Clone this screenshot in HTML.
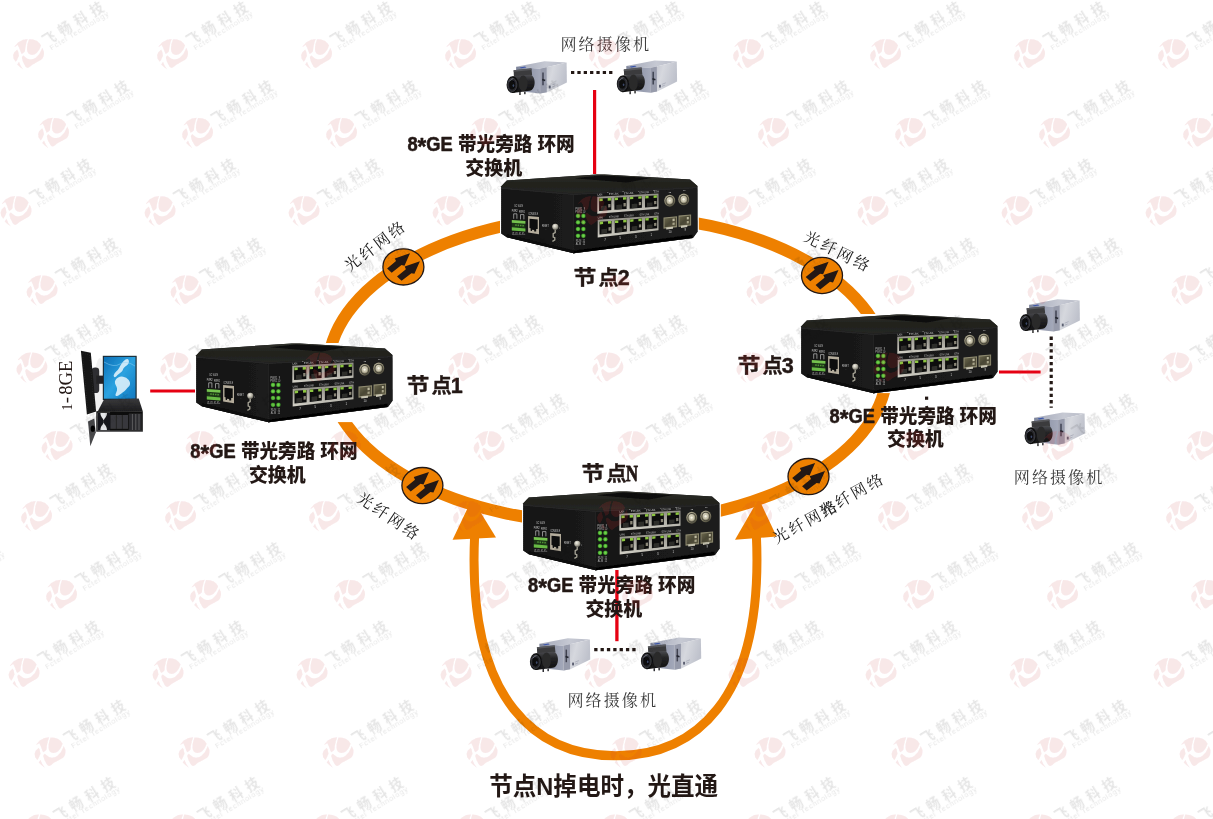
<!DOCTYPE html>
<html lang="zh-CN">
<head>
<meta charset="utf-8">
<title>8*GE 带光旁路 环网交换机 组网图</title>
<style>
html,body{margin:0;padding:0;background:#fff;}
body{width:1213px;height:819px;overflow:hidden;font-family:"Liberation Sans","Noto Sans CJK SC",sans-serif;}
svg{display:block;}
</style>
</head>
<body>
<svg width="1213" height="819" viewBox="0 0 1213 819">
<rect width="1213" height="819" fill="#fff"/>
<defs>
<filter id="soft2" x="-10%" y="-10%" width="120%" height="120%"><feGaussianBlur stdDeviation="0.45"/></filter>
<radialGradient id="coax" cx="0.42" cy="0.38" r="0.62"><stop offset="0" stop-color="#e8e4d2"/><stop offset="0.5" stop-color="#a9a48c"/><stop offset="0.8" stop-color="#7a765f"/><stop offset="1" stop-color="#3f3d32"/></radialGradient>
<filter id="soft" x="-5%" y="-5%" width="110%" height="110%"><feGaussianBlur stdDeviation="0.4"/></filter>
<linearGradient id="swTop" x1="0" y1="0" x2="0" y2="1"><stop offset="0" stop-color="#30312b"/><stop offset="0.5" stop-color="#20211d"/><stop offset="1" stop-color="#262723"/></linearGradient>
<linearGradient id="swLeft" x1="0" y1="0" x2="1" y2="0"><stop offset="0" stop-color="#141414"/><stop offset="1" stop-color="#1b1b1b"/></linearGradient>
<linearGradient id="swRight" x1="0" y1="0" x2="1" y2="0"><stop offset="0" stop-color="#171717"/><stop offset="1" stop-color="#1c1c1c"/></linearGradient>
<linearGradient id="rj" x1="0" y1="0" x2="0" y2="1"><stop offset="0" stop-color="#8f8d84"/><stop offset="0.7" stop-color="#b9b7ae"/><stop offset="1" stop-color="#d4d2c8"/></linearGradient>
<radialGradient id="metal" cx="0.4" cy="0.35" r="0.7"><stop offset="0" stop-color="#f4f2e8"/><stop offset="0.55" stop-color="#b3b0a3"/><stop offset="1" stop-color="#5d5b53"/></radialGradient>
<radialGradient id="led" cx="0.5" cy="0.5" r="0.5"><stop offset="0" stop-color="#7ed957"/><stop offset="0.6" stop-color="#56bd38"/><stop offset="1" stop-color="#2c6a20"/></radialGradient>
<linearGradient id="sfp" x1="0" y1="0" x2="1" y2="1"><stop offset="0" stop-color="#6d694f"/><stop offset="0.5" stop-color="#4a4735"/><stop offset="1" stop-color="#5f5b44"/></linearGradient>
<linearGradient id="camTop" x1="0" y1="0" x2="1" y2="0"><stop offset="0" stop-color="#a2a7b8"/><stop offset="0.6" stop-color="#c6c9d3"/><stop offset="1" stop-color="#b9bcc8"/></linearGradient>
<linearGradient id="camFront" x1="0" y1="0" x2="1" y2="0"><stop offset="0" stop-color="#7e859a"/><stop offset="1" stop-color="#a4a9ba"/></linearGradient>
<linearGradient id="camSide" x1="0" y1="0" x2="1" y2="0.3"><stop offset="0" stop-color="#b4b7c2"/><stop offset="0.5" stop-color="#d6d8de"/><stop offset="1" stop-color="#bfc2cc"/></linearGradient>
<linearGradient id="camLens" x1="0" y1="0" x2="0" y2="1"><stop offset="0" stop-color="#4b4c50"/><stop offset="0.35" stop-color="#252527"/><stop offset="1" stop-color="#0f0f10"/></linearGradient>
<linearGradient id="screen" x1="0" y1="0" x2="1" y2="1"><stop offset="0" stop-color="#0b6fb6"/><stop offset="0.5" stop-color="#2ba2e0"/><stop offset="1" stop-color="#1079c0"/></linearGradient>
<linearGradient id="towerTop" x1="0" y1="0" x2="0" y2="1"><stop offset="0" stop-color="#3a3a3c"/><stop offset="1" stop-color="#1d1d1f"/></linearGradient>
<g id="camera"><g filter="url(#soft)">
<polygon points="10.1,5.7 38.5,0.3 60.6,1.4 34.2,7.8" fill="url(#camTop)"/>
<polygon points="10.1,5.7 34.2,7.8 34.2,32.6 20.6,31.0 10.1,26.0" fill="url(#camFront)"/>
<polygon points="34.2,7.8 60.6,1.4 60.9,21.4 41.0,31.2 34.2,32.6" fill="url(#camSide)"/>
<polygon points="34.2,7.8 40.6,6.3 40.8,31.2 34.2,32.6" fill="#979bab"/>
<path d="M37 11.6v12.6" stroke="#3f4250" stroke-width="1.5" fill="none"/><path d="M36.2 18.6l3 1" stroke="#23252e" stroke-width="1.6" fill="none"/>
<rect x="42.8" y="24.6" width="1.9" height="2.8" fill="#5b6072"/>
<path d="M45.6 24.2l4-1.6M45.6 26.2l3-1.2" stroke="#8f93a2" stroke-width="0.5"/>
<polygon points="13.5,6.4 19.0,5.5 20.5,6.4 15.0,7.3" fill="#3a54a8"/>
<polygon points="7.6,9.3 25.4,7.4 26.2,14.6 7.9,15.4" fill="#3b3b3d"/>
<polygon points="7.6,9.3 25.4,7.4 25.6,9.0 7.7,10.8" fill="#55565a"/>
<path d="M6.4 15.3 L23.6 13.7 C30.4 14.2 30.4 29 23.6 29.7 L6.4 32 Z" fill="url(#camLens)"/>
<ellipse cx="17.2" cy="22.4" rx="4.4" ry="8" fill="#2a2a2b"/>
<ellipse cx="6.6" cy="23.7" rx="6" ry="8.4" fill="#0d0d0e"/>
<ellipse cx="6.3" cy="23.8" rx="4.6" ry="6.7" fill="#26272c" stroke="#4b4c52" stroke-width="0.7"/>
<ellipse cx="6.1" cy="24" rx="3" ry="4.4" fill="#07070a"/>
<path d="M3.4 20.4q1.6-2.6 3.8-2.8" stroke="#8a8d98" stroke-width="0.7" fill="none"/><ellipse cx="7.4" cy="24.6" rx="0.9" ry="1.3" fill="#3c4a66"/>
<rect x="13.2" y="31" width="1.5" height="3" fill="#2e2e30"/><rect x="18.1" y="30.4" width="1.5" height="2.8" fill="#2e2e30"/>
</g></g>
<g id="pc"><g filter="url(#soft)">
<ellipse cx="22" cy="40" rx="6" ry="30" fill="#000" opacity="0.06"/>
<rect x="13.6" y="19.5" width="7.6" height="25.6" rx="3.4" fill="#2f2f31"/>
<rect x="18.2" y="27.6" width="8" height="8.2" fill="#232325"/>
<rect x="24.8" y="7.8" width="33.9" height="44.2" fill="#1c2730"/>
<rect x="25.9" y="8.9" width="31.6" height="41.8" fill="url(#screen)"/>
<path d="M47.5 11.5c2.6-1.6 4 .6 3.2 3.4-1 3-4.6 3-5.6 6.4-1.2 3.6-4.6 4.2-6.6 7-1.2 1.4-3.2 1-2.8-1 .8-3.2 4-4.2 5.4-7.2 1.4-3.2 3.4-6.4 6.4-8.6z" fill="#e8f6fd" opacity="0.85"/>
<path d="M40.2 29.5c3-1.8 6.6-.8 9.4 1.4 2.6 2 3.4 5.6 1.2 7.6-2.2 2-3.6 4.4-6.2 6-2.4 1.6-5 4.4-6.6 3.4-1.4-1 .6-3.6 1-5.6.6-3-1.4-4.6-2-7-.6-2.4 1-4.6 3.200-5.800z" fill="#e8f6fd" opacity="0.85"/>
<path d="M26 14q10 6 16 2t15 2" stroke="#8fd3f4" stroke-width="0.7" fill="none" opacity="0.7"/>
<polygon points="2.9,2.7 12.8,4.8 18.1,63.4 8.9,66.6" fill="#151515"/>
<polygon points="4.6,5.5 11.6,7.0 16.4,62.6 10.0,64.6" fill="none" stroke="#3a3a3a" stroke-width="0.5" stroke-dasharray="1 1.4"/>
<polygon points="19.7,63.6 25.7,51.9 60.7,50.5 64.8,63.2" fill="url(#towerTop)"/>
<rect x="18.3" y="63.2" width="46.5" height="20.2" fill="#101010"/>
<rect x="19.4" y="64.8" width="12.6" height="17.4" fill="#e6e7ea"/>
<path d="M22.4 64.8c0 5 3.4 5.400 3.400 8.700s-3.400 3.700-3.400 8.700h-3v-17.400zM29 64.800c0 5-3.400 5.400-3.400 8.700s3.400 3.700 3.400 8.700h3v-17.400z" fill="#17171a" transform="translate(0 0)"/>
<rect x="32.4" y="67" width="17.6" height="13.8" fill="#39393c"/>
<path d="M38.400 67v13.800M44.400 67v13.800" stroke="#1a1a1a" stroke-width="0.7"/>
<rect x="50.800" y="65.600" width="12.800" height="16.400" fill="#2b2b2d"/>
<path d="M54.400 66v16M57.800 66v16M61 66v16" stroke="#8d8d90" stroke-width="0.5"/>
<rect x="18.3" y="82.600" width="46.500" height="1.200" fill="#5a5a5d"/>
<polygon points="10.0,73.4 16.3,70.6 17.8,84.6 12.3,98.2" fill="#48484b"/>
<ellipse cx="14.8" cy="80.8" rx="2.2" ry="3.2" fill="#050505"/>
</g></g>
<g id="marker"><ellipse cx="0" cy="0" rx="20.5" ry="18.1" fill="#ee8000" stroke="#231815" stroke-width="1.3"/><polygon points="6.6,-13.7 -8.6,-8.5 -7.4,-5.8 -16.3,1.5 -11.7,5.8 -1.9,-1.8 1.1,-1.2" fill="#231815"/><polygon points="16.5,-5.6 1.3,-0.4 2.5,2.3 -6.4,9.6 -1.8,13.9 8.0,6.3 11.0,6.9" fill="#231815"/></g>
<path id="logo" filter="url(#soft2)" d="M0.5 -14.9 L4.6 -14.6 L8.2 -13.3 L10.8 -11.2 L12.6 -8.5 L10.8 -4.4 L8.2 -1.0 L6.0 0.3 L3.6 0.8 L1.5 0.5 L0.0 -0.5 L-1.1 -2.4 L-1.5 -4.6 L-1.4 -7.8 L-0.8 -10.8ZM13.8 -6.4 L15.4 -2.6 L15.5 0.0 L15.1 2.1 L14.2 4.1 L12.8 5.6 L8.2 8.2 L3.6 10.8 L1.4 12.6 L-0.5 13.8 L-1.9 13.5 L-3.1 12.3 L-5.6 7.7 L-6.7 3.6 L-6.2 2.2 L-5.1 1.5 L-3.6 2.6 L-1.0 4.6 L1.0 5.2 L3.1 5.1 L5.3 4.6 L7.2 3.6 L10.8 0.0 L12.8 -4.1ZM-13.8 -7.9 L-10.3 -11.8 L-5.6 -14.4 L-0.8 -15.1 L-2.1 -11.3 L-3.1 -6.7 L-3.6 -2.6 L-5.1 -1.0 L-6.9 0.0 L-8.2 -3.1 L-9.5 -6.7 L-10.8 -9.0 L-13.8 -7.2ZM-11.3 -4.6 L-10.3 -2.6 L-9.5 1.5 L-11.3 5.6 L-12.8 7.7 L-14.9 4.6 L-15.4 1.5 L-14.4 -1.5ZM-9.5 7.7 L-7.7 11.8 L-5.1 15.4 L-8.7 12.8 L-11.3 10.3Z" fill="#c4323f" fill-opacity="0.115" stroke="#c4323f" stroke-opacity="0.1" stroke-width="0.01" stroke-linejoin="round"/><path id="logoGlow" filter="url(#soft2)" d="M0.5 -14.9 L4.6 -14.6 L8.2 -13.3 L10.8 -11.2 L12.6 -8.5 L10.8 -4.4 L8.2 -1.0 L6.0 0.3 L3.6 0.8 L1.5 0.5 L0.0 -0.5 L-1.1 -2.4 L-1.5 -4.6 L-1.4 -7.8 L-0.8 -10.8ZM13.8 -6.4 L15.4 -2.6 L15.5 0.0 L15.1 2.1 L14.2 4.1 L12.8 5.6 L8.2 8.2 L3.6 10.8 L1.4 12.6 L-0.5 13.8 L-1.9 13.5 L-3.1 12.3 L-5.6 7.7 L-6.7 3.6 L-6.2 2.2 L-5.1 1.5 L-3.6 2.6 L-1.0 4.6 L1.0 5.2 L3.1 5.1 L5.3 4.6 L7.2 3.6 L10.8 0.0 L12.8 -4.1ZM-13.8 -7.9 L-10.3 -11.8 L-5.6 -14.4 L-0.8 -15.1 L-2.1 -11.3 L-3.1 -6.7 L-3.6 -2.6 L-5.1 -1.0 L-6.9 0.0 L-8.2 -3.1 L-9.5 -6.7 L-10.8 -9.0 L-13.8 -7.2ZM-11.3 -4.6 L-10.3 -2.6 L-9.5 1.5 L-11.3 5.6 L-12.8 7.7 L-14.9 4.6 L-15.4 1.5 L-14.4 -1.5ZM-9.5 7.7 L-7.7 11.8 L-5.1 15.4 L-8.7 12.8 L-11.3 10.3Z" fill="#0d0203"/>
</defs>
<g id="diagram">
<ellipse cx="607.5" cy="369.4" rx="279.4" ry="154.5" fill="none" stroke="#ee8000" stroke-width="12"/>
<path d="M474.6 536 C467 704 539 755.8 615.5 755.8 C692 755.8 764 704 756.4 536" fill="none" stroke="#ee8000" stroke-width="9"/>
<polygon points="472.1,498.6 452.6,539.8 496,537.4" fill="#ee8000"/>
<polygon points="758.7,498.6 735,539.8 776.6,536.6" fill="#ee8000"/>
<line x1="150.2" y1="391" x2="197" y2="391" stroke="#e60012" stroke-width="3" />
<line x1="594.6" y1="90" x2="594.6" y2="176" stroke="#e60012" stroke-width="3.2" />
<line x1="999" y1="371.9" x2="1040.6" y2="371.9" stroke="#e60012" stroke-width="3" />
<line x1="571" y1="72.5" x2="613" y2="72.5" stroke="#231815" stroke-width="3.2" stroke-dasharray="3.3 3.05"/>
<line x1="594.2" y1="649.6" x2="637" y2="649.6" stroke="#231815" stroke-width="3.2" stroke-dasharray="3.3 3.05"/>
<line x1="1051.2" y1="336.6" x2="1051.2" y2="407.8" stroke="#231815" stroke-width="3.2" stroke-dasharray="3.3 3.05"/>
<g class="switch" transform="translate(195.8 343)">
<rect x="-0.8" y="0" width="198.8" height="79.1" fill="#fff"/>
<g filter="url(#soft)">
<polygon points="0.5,12.3 6.0,6.4 96.0,0.5 104.0,0.5 189.2,5.5 196.6,11.9 196.7,57.8 192.1,64.1 73.0,79.2 6.0,63.3 0.5,59.6" fill="#121212"/>
<polygon points="0.5,12.3 6.0,6.4 96.0,0.5 104.0,0.5 189.2,5.5 196.6,11.9 196.6,13.0 72.6,19.6 0.5,13.4" fill="url(#swTop)"/>
<polygon points="74.0,4.2 100.0,1.4 150.0,4.0 126.0,8.4" fill="#0b0b0b"/>
<polygon points="0.5,13.2 72.6,19.4 196.6,12.8 196.6,14.6 72.6,21.2 0.5,15.0" fill="#262626"/>
<polygon points="0.5,15.0 72.6,21.2 73.0,79.2 6.0,63.3 0.5,59.6" fill="url(#swLeft)"/>
<polygon points="72.6,21.2 196.6,14.6 196.7,57.8 192.1,64.1 73.0,79.2" fill="url(#swRight)"/>
<line x1="72.7" y1="20" x2="73" y2="80" stroke="#262626" stroke-width="0.7"/>
<polygon points="73.0,76.4 192.1,60.4 192.1,64.1 73.0,79.2" fill="#060606"/>
<polygon points="6.0,60.2 73.0,76.4 73.0,79.2 6.0,63.3" fill="#080808"/>
<g font-family="Liberation Sans, sans-serif" font-size="3" fill="#d0d0d0" font-weight="400">
<text x="13.6" y="33.2" textLength="8.6" lengthAdjust="spacingAndGlyphs">DC 9-60V</text>
<text x="11" y="38.4" textLength="5.8" lengthAdjust="spacingAndGlyphs">PWR2</text><text x="18.2" y="39" textLength="5.8" lengthAdjust="spacingAndGlyphs">PWR1</text>
<text x="27.6" y="40.6" textLength="9.6" lengthAdjust="spacingAndGlyphs">CONSOLE</text>
<text x="41.2" y="53.2" textLength="6.6" lengthAdjust="spacingAndGlyphs">RESET</text>
<text x="11.4" y="61.2" font-size="2.6" textLength="13" lengthAdjust="spacingAndGlyphs">V2- V2+ V1- V1+</text>
<text x="74.4" y="35.6" font-size="2.7" fill="#b4b4b4" textLength="10" lengthAdjust="spacingAndGlyphs" xml:space="preserve">PWR1  9</text><text x="74.4" y="38.8" font-size="2.7" fill="#b4b4b4" textLength="10" lengthAdjust="spacingAndGlyphs" xml:space="preserve">PWR2 10</text>
<text x="75" y="67.6" font-size="2.7" fill="#b4b4b4" textLength="9.4" lengthAdjust="spacingAndGlyphs" xml:space="preserve">RUN  11</text><text x="75" y="70.9" font-size="2.7" fill="#b4b4b4" textLength="9.4" lengthAdjust="spacingAndGlyphs" xml:space="preserve">ALM  12</text>
</g>
<path d="M12.9 44.8V39.8h3.2v5M19.7 45.4V40.6h3.4v4.8" fill="none" stroke="#dedede" stroke-width="0.6"/>
<polygon points="11.0,46.0 24.6,47.0 24.6,57.4 11.0,56.4" fill="#1c3416"/>
<polygon points="11.0,46.0 24.6,47.0 24.6,49.8 11.0,48.8" fill="#74c34f"/>
<polygon points="11.0,53.2 24.6,54.4 24.6,57.4 11.0,56.4" fill="#68ba45"/>
<path d="M14.4 51l9 .8" stroke="#4f9236" stroke-width="1.6" stroke-dasharray="1.5 0.9"/>
<polygon points="27.3,41.9 38.2,43.0 38.2,60.2 27.3,58.6" fill="#b5ad9c"/>
<polygon points="28.7,44.8 36.9,45.6 36.9,55.0 35.4,54.9 35.4,57.6 33.4,57.4 33.4,56.0 31.2,55.8 31.2,57.0 29.8,56.8 29.8,54.2 28.7,54.1" fill="#0b0b0b"/>
<circle cx="54.5" cy="52.8" r="3.1" fill="url(#metal)"/>
<path d="M54.4 56v2.600l-2 1v3.400l1.600 .6v2.400l-2.400 1.400" fill="none" stroke="#a9a698" stroke-width="1.3"/>
<circle cx="58.6" cy="54" r="0.55" fill="#8a8a8a"/><circle cx="45" cy="55.400" r="0.45" fill="#333"/>
<circle cx="77.2" cy="41.9" r="2.35" fill="url(#led)"/>
<circle cx="82.6" cy="41.9" r="2.35" fill="url(#led)"/>
<circle cx="77.2" cy="48.3" r="2.35" fill="url(#led)"/>
<circle cx="82.6" cy="48.3" r="2.35" fill="url(#led)"/>
<circle cx="77.2" cy="55" r="2.35" fill="url(#led)"/>
<circle cx="82.6" cy="55" r="2.35" fill="url(#led)"/>
<circle cx="77.2" cy="61.8" r="2.35" fill="url(#led)"/>
<circle cx="82.6" cy="61.8" r="2.35" fill="url(#led)"/>
<polygon points="96.5,22.7 157.7,19.4 157.7,34.8 96.5,39.7" fill="url(#rj)"/>
<polygon points="98.3,24.6 110.5,23.9 110.5,36.1 98.3,37.0" fill="#0c0c0c"/>
<polygon points="100.2,32.0 105.9,31.6 105.9,36.1 100.2,36.5" fill="#2e2e2c"/>
<polygon points="107.4,30.1 109.7,30.0 109.7,33.3 107.4,33.5" fill="#8b8778"/>
<polygon points="98.6,24.6 101.9,24.4 101.9,27.0 98.6,27.2" fill="#8cc63f"/>
<polygon points="106.9,24.1 110.2,24.0 110.2,26.5 106.9,26.7" fill="#8cc63f"/>
<polygon points="113.6,23.8 125.8,23.1 125.8,34.9 113.6,35.8" fill="#0c0c0c"/>
<polygon points="115.5,30.9 121.2,30.5 121.2,34.9 115.5,35.4" fill="#2e2e2c"/>
<polygon points="122.7,29.1 125.0,29.0 125.0,32.2 122.7,32.4" fill="#8b8778"/>
<polygon points="113.9,23.7 117.2,23.6 117.2,26.0 113.9,26.2" fill="#8cc63f"/>
<polygon points="122.2,23.3 125.5,23.1 125.5,25.5 122.2,25.7" fill="#8cc63f"/>
<polygon points="128.9,22.9 141.1,22.2 141.1,33.8 128.9,34.7" fill="#0c0c0c"/>
<polygon points="130.8,29.9 136.5,29.5 136.5,33.8 130.8,34.2" fill="#2e2e2c"/>
<polygon points="138.0,28.1 140.3,27.9 140.3,31.1 138.0,31.3" fill="#8b8778"/>
<polygon points="129.2,22.9 132.5,22.7 132.5,25.1 129.2,25.3" fill="#8cc63f"/>
<polygon points="137.5,22.4 140.8,22.2 140.8,24.6 137.5,24.8" fill="#8cc63f"/>
<polygon points="144.2,22.0 156.4,21.3 156.4,32.6 144.2,33.5" fill="#0c0c0c"/>
<polygon points="146.1,28.8 151.8,28.4 151.8,32.6 146.1,33.1" fill="#2e2e2c"/>
<polygon points="153.3,27.1 155.6,26.9 155.6,30.0 153.3,30.2" fill="#8b8778"/>
<polygon points="144.5,22.0 147.8,21.8 147.8,24.2 144.5,24.4" fill="#8cc63f"/>
<polygon points="152.8,21.5 156.1,21.3 156.1,23.7 152.8,23.9" fill="#8cc63f"/>
<polygon points="96.9,45.8 157.7,41.6 157.7,56.2 96.9,63.4" fill="url(#rj)"/>
<polygon points="98.7,47.8 110.8,46.9 110.8,59.2 98.7,60.6" fill="#0c0c0c"/>
<polygon points="100.5,55.3 106.2,54.8 106.2,59.4 100.5,60.0" fill="#2e2e2c"/>
<polygon points="107.7,53.2 110.0,53.0 110.0,56.4 107.7,56.7" fill="#8b8778"/>
<polygon points="99.0,47.8 102.3,47.5 102.3,50.1 99.0,50.4" fill="#8cc63f"/>
<polygon points="107.2,47.1 110.5,46.9 110.5,49.4 107.2,49.7" fill="#8cc63f"/>
<polygon points="113.9,46.6 126.0,45.7 126.0,57.5 113.9,58.9" fill="#0c0c0c"/>
<polygon points="115.7,53.8 121.4,53.3 121.4,57.7 115.7,58.3" fill="#2e2e2c"/>
<polygon points="122.9,51.8 125.2,51.6 125.2,54.9 122.9,55.1" fill="#8b8778"/>
<polygon points="114.2,46.6 117.5,46.4 117.5,48.9 114.2,49.1" fill="#8cc63f"/>
<polygon points="122.4,46.0 125.7,45.8 125.7,48.2 122.4,48.4" fill="#8cc63f"/>
<polygon points="129.1,45.5 141.2,44.6 141.2,55.8 129.1,57.2" fill="#0c0c0c"/>
<polygon points="130.9,52.4 136.6,51.8 136.6,56.0 130.9,56.7" fill="#2e2e2c"/>
<polygon points="138.1,50.4 140.4,50.2 140.4,53.3 138.1,53.5" fill="#8b8778"/>
<polygon points="129.4,45.5 132.7,45.2 132.7,47.6 129.4,47.9" fill="#8cc63f"/>
<polygon points="137.6,44.9 140.9,44.6 140.9,46.9 137.6,47.2" fill="#8cc63f"/>
<polygon points="144.3,44.4 156.4,43.5 156.4,54.2 144.3,55.5" fill="#0c0c0c"/>
<polygon points="146.1,50.9 151.8,50.3 151.8,54.4 146.1,55.0" fill="#2e2e2c"/>
<polygon points="153.3,49.0 155.6,48.8 155.6,51.7 153.3,52.0" fill="#8b8778"/>
<polygon points="144.6,44.3 147.9,44.1 147.9,46.4 144.6,46.6" fill="#8cc63f"/>
<polygon points="152.8,43.7 156.1,43.5 156.1,45.7 152.8,45.9" fill="#8cc63f"/>
<g font-family="Liberation Sans, sans-serif" font-size="2.9" fill="#d2d2d2" font-weight="400">
<g transform="translate(96.6 21.7) rotate(-3)"><text x="0" y="0" textLength="5" lengthAdjust="spacingAndGlyphs">LAN</text><text x="11.6" y="0" textLength="9.6" lengthAdjust="spacingAndGlyphs">ETH LINK</text><text x="26.6" y="0" textLength="9.6" lengthAdjust="spacingAndGlyphs">ETH LINK</text><text x="42.2" y="0" textLength="9.6" lengthAdjust="spacingAndGlyphs">ETH LINK</text><text x="57" y="0" textLength="4.6" lengthAdjust="spacingAndGlyphs">ETH</text></g>
<g transform="translate(96.9 44.7) rotate(-4)"><text x="0" y="0" textLength="5" lengthAdjust="spacingAndGlyphs">LAN</text><text x="11.6" y="0" textLength="9.6" lengthAdjust="spacingAndGlyphs">ETH LINK</text><text x="26.6" y="0" textLength="9.6" lengthAdjust="spacingAndGlyphs">ETH LINK</text><text x="42.2" y="0" textLength="9.6" lengthAdjust="spacingAndGlyphs">ETH LINK</text><text x="57" y="0" textLength="4.6" lengthAdjust="spacingAndGlyphs">ETH</text></g>
<text x="103.4" y="66.6">7</text>
<text x="118.8" y="65.0">5</text>
<text x="134.2" y="63.5">3</text>
<text x="149.6" y="61.9">1</text>
<text x="106.2" y="19.2" font-size="2.4">8</text>
<text x="121.6" y="18.4" font-size="2.4">6</text>
<text x="137.0" y="17.6" font-size="2.4">4</text>
<text x="152.4" y="16.8" font-size="2.4">2</text>
<text x="167.6" y="58.6" textLength="3" lengthAdjust="spacingAndGlyphs">10</text><text x="183.6" y="56.8">9</text>
<text x="167.6" y="18.6" font-size="2.4">12</text><text x="182.2" y="17.4" font-size="2.4">11</text>
</g>
<ellipse cx="169" cy="26.8" rx="5.6" ry="6.1" fill="url(#coax)"/>
<ellipse cx="169" cy="26.8" rx="3.9" ry="4.300" fill="none" stroke="#4a473c" stroke-width="1.1"/>
<ellipse cx="169" cy="26.8" rx="2.4" ry="2.700" fill="#c9c4ae"/>
<ellipse cx="168.8" cy="26.6" rx="1.1" ry="1.200" fill="#f5f2e6"/>
<ellipse cx="183" cy="25.5" rx="5.6" ry="6.1" fill="url(#coax)"/>
<ellipse cx="183" cy="25.5" rx="3.9" ry="4.300" fill="none" stroke="#4a473c" stroke-width="1.1"/>
<ellipse cx="183" cy="25.5" rx="2.4" ry="2.700" fill="#c9c4ae"/>
<ellipse cx="182.8" cy="25.3" rx="1.1" ry="1.200" fill="#f5f2e6"/>
<polygon points="162.7,43.4 176.3,42.2 176.3,53.2 162.7,54.8" fill="#8d896f"/>
<polygon points="163.7,44.5 175.3,43.4 175.3,52.0 163.7,53.3" fill="url(#sfp)"/>
<polygon points="171.7,44.8 173.9,44.6 173.9,47.1 171.7,47.3" fill="#bdb99f"/>
<polygon points="171.7,48.8 173.9,48.6 173.9,50.8 171.7,51.1" fill="#a8a48a"/>
<polygon points="165.4,53.6 172.2,52.8 172.2,54.8 165.4,55.6" fill="#c9c6b4"/>
<polygon points="177.7,41.6 190.3,40.4 190.3,51.6 177.7,53.0" fill="#8d896f"/>
<polygon points="178.6,42.7 189.4,41.6 189.4,50.4 178.6,51.5" fill="url(#sfp)"/>
<polygon points="186.0,43.1 188.0,42.9 188.0,45.3 186.0,45.5" fill="#bdb99f"/>
<polygon points="186.0,47.1 188.0,46.9 188.0,49.2 186.0,49.4" fill="#a8a48a"/>
<polygon points="180.2,51.8 186.5,51.1 186.5,53.1 180.2,53.9" fill="#c9c6b4"/>
</g>
</g>
<g class="switch" transform="translate(500.8 174)">
<rect x="-0.8" y="0" width="198.8" height="79.1" fill="#fff"/>
<g filter="url(#soft)">
<polygon points="0.5,12.3 6.0,6.4 96.0,0.5 104.0,0.5 189.2,5.5 196.6,11.9 196.7,57.8 192.1,64.1 73.0,79.2 6.0,63.3 0.5,59.6" fill="#121212"/>
<polygon points="0.5,12.3 6.0,6.4 96.0,0.5 104.0,0.5 189.2,5.5 196.6,11.9 196.6,13.0 72.6,19.6 0.5,13.4" fill="url(#swTop)"/>
<polygon points="74.0,4.2 100.0,1.4 150.0,4.0 126.0,8.4" fill="#0b0b0b"/>
<polygon points="0.5,13.2 72.6,19.4 196.6,12.8 196.6,14.6 72.6,21.2 0.5,15.0" fill="#262626"/>
<polygon points="0.5,15.0 72.6,21.2 73.0,79.2 6.0,63.3 0.5,59.6" fill="url(#swLeft)"/>
<polygon points="72.6,21.2 196.6,14.6 196.7,57.8 192.1,64.1 73.0,79.2" fill="url(#swRight)"/>
<line x1="72.7" y1="20" x2="73" y2="80" stroke="#262626" stroke-width="0.7"/>
<polygon points="73.0,76.4 192.1,60.4 192.1,64.1 73.0,79.2" fill="#060606"/>
<polygon points="6.0,60.2 73.0,76.4 73.0,79.2 6.0,63.3" fill="#080808"/>
<g font-family="Liberation Sans, sans-serif" font-size="3" fill="#d0d0d0" font-weight="400">
<text x="13.6" y="33.2" textLength="8.6" lengthAdjust="spacingAndGlyphs">DC 9-60V</text>
<text x="11" y="38.4" textLength="5.8" lengthAdjust="spacingAndGlyphs">PWR2</text><text x="18.2" y="39" textLength="5.8" lengthAdjust="spacingAndGlyphs">PWR1</text>
<text x="27.6" y="40.6" textLength="9.6" lengthAdjust="spacingAndGlyphs">CONSOLE</text>
<text x="41.2" y="53.2" textLength="6.6" lengthAdjust="spacingAndGlyphs">RESET</text>
<text x="11.4" y="61.2" font-size="2.6" textLength="13" lengthAdjust="spacingAndGlyphs">V2- V2+ V1- V1+</text>
<text x="74.4" y="35.6" font-size="2.7" fill="#b4b4b4" textLength="10" lengthAdjust="spacingAndGlyphs" xml:space="preserve">PWR1  9</text><text x="74.4" y="38.8" font-size="2.7" fill="#b4b4b4" textLength="10" lengthAdjust="spacingAndGlyphs" xml:space="preserve">PWR2 10</text>
<text x="75" y="67.6" font-size="2.7" fill="#b4b4b4" textLength="9.4" lengthAdjust="spacingAndGlyphs" xml:space="preserve">RUN  11</text><text x="75" y="70.9" font-size="2.7" fill="#b4b4b4" textLength="9.4" lengthAdjust="spacingAndGlyphs" xml:space="preserve">ALM  12</text>
</g>
<path d="M12.9 44.8V39.8h3.2v5M19.7 45.4V40.6h3.4v4.8" fill="none" stroke="#dedede" stroke-width="0.6"/>
<polygon points="11.0,46.0 24.6,47.0 24.6,57.4 11.0,56.4" fill="#1c3416"/>
<polygon points="11.0,46.0 24.6,47.0 24.6,49.8 11.0,48.8" fill="#74c34f"/>
<polygon points="11.0,53.2 24.6,54.4 24.6,57.4 11.0,56.4" fill="#68ba45"/>
<path d="M14.4 51l9 .8" stroke="#4f9236" stroke-width="1.6" stroke-dasharray="1.5 0.9"/>
<polygon points="27.3,41.9 38.2,43.0 38.2,60.2 27.3,58.6" fill="#b5ad9c"/>
<polygon points="28.7,44.8 36.9,45.6 36.9,55.0 35.4,54.9 35.4,57.6 33.4,57.4 33.4,56.0 31.2,55.8 31.2,57.0 29.8,56.8 29.8,54.2 28.7,54.1" fill="#0b0b0b"/>
<circle cx="54.5" cy="52.8" r="3.1" fill="url(#metal)"/>
<path d="M54.4 56v2.600l-2 1v3.400l1.600 .6v2.400l-2.400 1.400" fill="none" stroke="#a9a698" stroke-width="1.3"/>
<circle cx="58.6" cy="54" r="0.55" fill="#8a8a8a"/><circle cx="45" cy="55.400" r="0.45" fill="#333"/>
<circle cx="77.2" cy="41.9" r="2.35" fill="url(#led)"/>
<circle cx="82.6" cy="41.9" r="2.35" fill="url(#led)"/>
<circle cx="77.2" cy="48.3" r="2.35" fill="url(#led)"/>
<circle cx="82.6" cy="48.3" r="2.35" fill="url(#led)"/>
<circle cx="77.2" cy="55" r="2.35" fill="url(#led)"/>
<circle cx="82.6" cy="55" r="2.35" fill="url(#led)"/>
<circle cx="77.2" cy="61.8" r="2.35" fill="url(#led)"/>
<circle cx="82.6" cy="61.8" r="2.35" fill="url(#led)"/>
<polygon points="96.5,22.7 157.7,19.4 157.7,34.8 96.5,39.7" fill="url(#rj)"/>
<polygon points="98.3,24.6 110.5,23.9 110.5,36.1 98.3,37.0" fill="#0c0c0c"/>
<polygon points="100.2,32.0 105.9,31.6 105.9,36.1 100.2,36.5" fill="#2e2e2c"/>
<polygon points="107.4,30.1 109.7,30.0 109.7,33.3 107.4,33.5" fill="#8b8778"/>
<polygon points="98.6,24.6 101.9,24.4 101.9,27.0 98.6,27.2" fill="#8cc63f"/>
<polygon points="106.9,24.1 110.2,24.0 110.2,26.5 106.9,26.7" fill="#8cc63f"/>
<polygon points="113.6,23.8 125.8,23.1 125.8,34.9 113.6,35.8" fill="#0c0c0c"/>
<polygon points="115.5,30.9 121.2,30.5 121.2,34.9 115.5,35.4" fill="#2e2e2c"/>
<polygon points="122.7,29.1 125.0,29.0 125.0,32.2 122.7,32.4" fill="#8b8778"/>
<polygon points="113.9,23.7 117.2,23.6 117.2,26.0 113.9,26.2" fill="#8cc63f"/>
<polygon points="122.2,23.3 125.5,23.1 125.5,25.5 122.2,25.7" fill="#8cc63f"/>
<polygon points="128.9,22.9 141.1,22.2 141.1,33.8 128.9,34.7" fill="#0c0c0c"/>
<polygon points="130.8,29.9 136.5,29.5 136.5,33.8 130.8,34.2" fill="#2e2e2c"/>
<polygon points="138.0,28.1 140.3,27.9 140.3,31.1 138.0,31.3" fill="#8b8778"/>
<polygon points="129.2,22.9 132.5,22.7 132.5,25.1 129.2,25.3" fill="#8cc63f"/>
<polygon points="137.5,22.4 140.8,22.2 140.8,24.6 137.5,24.8" fill="#8cc63f"/>
<polygon points="144.2,22.0 156.4,21.3 156.4,32.6 144.2,33.5" fill="#0c0c0c"/>
<polygon points="146.1,28.8 151.8,28.4 151.8,32.6 146.1,33.1" fill="#2e2e2c"/>
<polygon points="153.3,27.1 155.6,26.9 155.6,30.0 153.3,30.2" fill="#8b8778"/>
<polygon points="144.5,22.0 147.8,21.8 147.8,24.2 144.5,24.4" fill="#8cc63f"/>
<polygon points="152.8,21.5 156.1,21.3 156.1,23.7 152.8,23.9" fill="#8cc63f"/>
<polygon points="96.9,45.8 157.7,41.6 157.7,56.2 96.9,63.4" fill="url(#rj)"/>
<polygon points="98.7,47.8 110.8,46.9 110.8,59.2 98.7,60.6" fill="#0c0c0c"/>
<polygon points="100.5,55.3 106.2,54.8 106.2,59.4 100.5,60.0" fill="#2e2e2c"/>
<polygon points="107.7,53.2 110.0,53.0 110.0,56.4 107.7,56.7" fill="#8b8778"/>
<polygon points="99.0,47.8 102.3,47.5 102.3,50.1 99.0,50.4" fill="#8cc63f"/>
<polygon points="107.2,47.1 110.5,46.9 110.5,49.4 107.2,49.7" fill="#8cc63f"/>
<polygon points="113.9,46.6 126.0,45.7 126.0,57.5 113.9,58.9" fill="#0c0c0c"/>
<polygon points="115.7,53.8 121.4,53.3 121.4,57.7 115.7,58.3" fill="#2e2e2c"/>
<polygon points="122.9,51.8 125.2,51.6 125.2,54.9 122.9,55.1" fill="#8b8778"/>
<polygon points="114.2,46.6 117.5,46.4 117.5,48.9 114.2,49.1" fill="#8cc63f"/>
<polygon points="122.4,46.0 125.7,45.8 125.7,48.2 122.4,48.4" fill="#8cc63f"/>
<polygon points="129.1,45.5 141.2,44.6 141.2,55.8 129.1,57.2" fill="#0c0c0c"/>
<polygon points="130.9,52.4 136.6,51.8 136.6,56.0 130.9,56.7" fill="#2e2e2c"/>
<polygon points="138.1,50.4 140.4,50.2 140.4,53.3 138.1,53.5" fill="#8b8778"/>
<polygon points="129.4,45.5 132.7,45.2 132.7,47.6 129.4,47.9" fill="#8cc63f"/>
<polygon points="137.6,44.9 140.9,44.6 140.9,46.9 137.6,47.2" fill="#8cc63f"/>
<polygon points="144.3,44.4 156.4,43.5 156.4,54.2 144.3,55.5" fill="#0c0c0c"/>
<polygon points="146.1,50.9 151.8,50.3 151.8,54.4 146.1,55.0" fill="#2e2e2c"/>
<polygon points="153.3,49.0 155.6,48.8 155.6,51.7 153.3,52.0" fill="#8b8778"/>
<polygon points="144.6,44.3 147.9,44.1 147.9,46.4 144.6,46.6" fill="#8cc63f"/>
<polygon points="152.8,43.7 156.1,43.5 156.1,45.7 152.8,45.9" fill="#8cc63f"/>
<g font-family="Liberation Sans, sans-serif" font-size="2.9" fill="#d2d2d2" font-weight="400">
<g transform="translate(96.6 21.7) rotate(-3)"><text x="0" y="0" textLength="5" lengthAdjust="spacingAndGlyphs">LAN</text><text x="11.6" y="0" textLength="9.6" lengthAdjust="spacingAndGlyphs">ETH LINK</text><text x="26.6" y="0" textLength="9.6" lengthAdjust="spacingAndGlyphs">ETH LINK</text><text x="42.2" y="0" textLength="9.6" lengthAdjust="spacingAndGlyphs">ETH LINK</text><text x="57" y="0" textLength="4.6" lengthAdjust="spacingAndGlyphs">ETH</text></g>
<g transform="translate(96.9 44.7) rotate(-4)"><text x="0" y="0" textLength="5" lengthAdjust="spacingAndGlyphs">LAN</text><text x="11.6" y="0" textLength="9.6" lengthAdjust="spacingAndGlyphs">ETH LINK</text><text x="26.6" y="0" textLength="9.6" lengthAdjust="spacingAndGlyphs">ETH LINK</text><text x="42.2" y="0" textLength="9.6" lengthAdjust="spacingAndGlyphs">ETH LINK</text><text x="57" y="0" textLength="4.6" lengthAdjust="spacingAndGlyphs">ETH</text></g>
<text x="103.4" y="66.6">7</text>
<text x="118.8" y="65.0">5</text>
<text x="134.2" y="63.5">3</text>
<text x="149.6" y="61.9">1</text>
<text x="106.2" y="19.2" font-size="2.4">8</text>
<text x="121.6" y="18.4" font-size="2.4">6</text>
<text x="137.0" y="17.6" font-size="2.4">4</text>
<text x="152.4" y="16.8" font-size="2.4">2</text>
<text x="167.6" y="58.6" textLength="3" lengthAdjust="spacingAndGlyphs">10</text><text x="183.6" y="56.8">9</text>
<text x="167.6" y="18.6" font-size="2.4">12</text><text x="182.2" y="17.4" font-size="2.4">11</text>
</g>
<ellipse cx="169" cy="26.8" rx="5.6" ry="6.1" fill="url(#coax)"/>
<ellipse cx="169" cy="26.8" rx="3.9" ry="4.300" fill="none" stroke="#4a473c" stroke-width="1.1"/>
<ellipse cx="169" cy="26.8" rx="2.4" ry="2.700" fill="#c9c4ae"/>
<ellipse cx="168.8" cy="26.6" rx="1.1" ry="1.200" fill="#f5f2e6"/>
<ellipse cx="183" cy="25.5" rx="5.6" ry="6.1" fill="url(#coax)"/>
<ellipse cx="183" cy="25.5" rx="3.9" ry="4.300" fill="none" stroke="#4a473c" stroke-width="1.1"/>
<ellipse cx="183" cy="25.5" rx="2.4" ry="2.700" fill="#c9c4ae"/>
<ellipse cx="182.8" cy="25.3" rx="1.1" ry="1.200" fill="#f5f2e6"/>
<polygon points="162.7,43.4 176.3,42.2 176.3,53.2 162.7,54.8" fill="#8d896f"/>
<polygon points="163.7,44.5 175.3,43.4 175.3,52.0 163.7,53.3" fill="url(#sfp)"/>
<polygon points="171.7,44.8 173.9,44.6 173.9,47.1 171.7,47.3" fill="#bdb99f"/>
<polygon points="171.7,48.8 173.9,48.6 173.9,50.8 171.7,51.1" fill="#a8a48a"/>
<polygon points="165.4,53.6 172.2,52.8 172.2,54.8 165.4,55.6" fill="#c9c6b4"/>
<polygon points="177.7,41.6 190.3,40.4 190.3,51.6 177.7,53.0" fill="#8d896f"/>
<polygon points="178.6,42.7 189.4,41.6 189.4,50.4 178.6,51.5" fill="url(#sfp)"/>
<polygon points="186.0,43.1 188.0,42.9 188.0,45.3 186.0,45.5" fill="#bdb99f"/>
<polygon points="186.0,47.1 188.0,46.9 188.0,49.2 186.0,49.4" fill="#a8a48a"/>
<polygon points="180.2,51.8 186.5,51.1 186.5,53.1 180.2,53.9" fill="#c9c6b4"/>
</g>
</g>
<g class="switch" transform="translate(800.8 314)">
<rect x="-0.8" y="0" width="198.8" height="79.1" fill="#fff"/>
<g filter="url(#soft)">
<polygon points="0.5,12.3 6.0,6.4 96.0,0.5 104.0,0.5 189.2,5.5 196.6,11.9 196.7,57.8 192.1,64.1 73.0,79.2 6.0,63.3 0.5,59.6" fill="#121212"/>
<polygon points="0.5,12.3 6.0,6.4 96.0,0.5 104.0,0.5 189.2,5.5 196.6,11.9 196.6,13.0 72.6,19.6 0.5,13.4" fill="url(#swTop)"/>
<polygon points="74.0,4.2 100.0,1.4 150.0,4.0 126.0,8.4" fill="#0b0b0b"/>
<polygon points="0.5,13.2 72.6,19.4 196.6,12.8 196.6,14.6 72.6,21.2 0.5,15.0" fill="#262626"/>
<polygon points="0.5,15.0 72.6,21.2 73.0,79.2 6.0,63.3 0.5,59.6" fill="url(#swLeft)"/>
<polygon points="72.6,21.2 196.6,14.6 196.7,57.8 192.1,64.1 73.0,79.2" fill="url(#swRight)"/>
<line x1="72.7" y1="20" x2="73" y2="80" stroke="#262626" stroke-width="0.7"/>
<polygon points="73.0,76.4 192.1,60.4 192.1,64.1 73.0,79.2" fill="#060606"/>
<polygon points="6.0,60.2 73.0,76.4 73.0,79.2 6.0,63.3" fill="#080808"/>
<g font-family="Liberation Sans, sans-serif" font-size="3" fill="#d0d0d0" font-weight="400">
<text x="13.6" y="33.2" textLength="8.6" lengthAdjust="spacingAndGlyphs">DC 9-60V</text>
<text x="11" y="38.4" textLength="5.8" lengthAdjust="spacingAndGlyphs">PWR2</text><text x="18.2" y="39" textLength="5.8" lengthAdjust="spacingAndGlyphs">PWR1</text>
<text x="27.6" y="40.6" textLength="9.6" lengthAdjust="spacingAndGlyphs">CONSOLE</text>
<text x="41.2" y="53.2" textLength="6.6" lengthAdjust="spacingAndGlyphs">RESET</text>
<text x="11.4" y="61.2" font-size="2.6" textLength="13" lengthAdjust="spacingAndGlyphs">V2- V2+ V1- V1+</text>
<text x="74.4" y="35.6" font-size="2.7" fill="#b4b4b4" textLength="10" lengthAdjust="spacingAndGlyphs" xml:space="preserve">PWR1  9</text><text x="74.4" y="38.8" font-size="2.7" fill="#b4b4b4" textLength="10" lengthAdjust="spacingAndGlyphs" xml:space="preserve">PWR2 10</text>
<text x="75" y="67.6" font-size="2.7" fill="#b4b4b4" textLength="9.4" lengthAdjust="spacingAndGlyphs" xml:space="preserve">RUN  11</text><text x="75" y="70.9" font-size="2.7" fill="#b4b4b4" textLength="9.4" lengthAdjust="spacingAndGlyphs" xml:space="preserve">ALM  12</text>
</g>
<path d="M12.9 44.8V39.8h3.2v5M19.7 45.4V40.6h3.4v4.8" fill="none" stroke="#dedede" stroke-width="0.6"/>
<polygon points="11.0,46.0 24.6,47.0 24.6,57.4 11.0,56.4" fill="#1c3416"/>
<polygon points="11.0,46.0 24.6,47.0 24.6,49.8 11.0,48.8" fill="#74c34f"/>
<polygon points="11.0,53.2 24.6,54.4 24.6,57.4 11.0,56.4" fill="#68ba45"/>
<path d="M14.4 51l9 .8" stroke="#4f9236" stroke-width="1.6" stroke-dasharray="1.5 0.9"/>
<polygon points="27.3,41.9 38.2,43.0 38.2,60.2 27.3,58.6" fill="#b5ad9c"/>
<polygon points="28.7,44.8 36.9,45.6 36.9,55.0 35.4,54.9 35.4,57.6 33.4,57.4 33.4,56.0 31.2,55.8 31.2,57.0 29.8,56.8 29.8,54.2 28.7,54.1" fill="#0b0b0b"/>
<circle cx="54.5" cy="52.8" r="3.1" fill="url(#metal)"/>
<path d="M54.4 56v2.600l-2 1v3.400l1.600 .6v2.400l-2.400 1.400" fill="none" stroke="#a9a698" stroke-width="1.3"/>
<circle cx="58.6" cy="54" r="0.55" fill="#8a8a8a"/><circle cx="45" cy="55.400" r="0.45" fill="#333"/>
<circle cx="77.2" cy="41.9" r="2.35" fill="url(#led)"/>
<circle cx="82.6" cy="41.9" r="2.35" fill="url(#led)"/>
<circle cx="77.2" cy="48.3" r="2.35" fill="url(#led)"/>
<circle cx="82.6" cy="48.3" r="2.35" fill="url(#led)"/>
<circle cx="77.2" cy="55" r="2.35" fill="url(#led)"/>
<circle cx="82.6" cy="55" r="2.35" fill="url(#led)"/>
<circle cx="77.2" cy="61.8" r="2.35" fill="url(#led)"/>
<circle cx="82.6" cy="61.8" r="2.35" fill="url(#led)"/>
<polygon points="96.5,22.7 157.7,19.4 157.7,34.8 96.5,39.7" fill="url(#rj)"/>
<polygon points="98.3,24.6 110.5,23.9 110.5,36.1 98.3,37.0" fill="#0c0c0c"/>
<polygon points="100.2,32.0 105.9,31.6 105.9,36.1 100.2,36.5" fill="#2e2e2c"/>
<polygon points="107.4,30.1 109.7,30.0 109.7,33.3 107.4,33.5" fill="#8b8778"/>
<polygon points="98.6,24.6 101.9,24.4 101.9,27.0 98.6,27.2" fill="#8cc63f"/>
<polygon points="106.9,24.1 110.2,24.0 110.2,26.5 106.9,26.7" fill="#8cc63f"/>
<polygon points="113.6,23.8 125.8,23.1 125.8,34.9 113.6,35.8" fill="#0c0c0c"/>
<polygon points="115.5,30.9 121.2,30.5 121.2,34.9 115.5,35.4" fill="#2e2e2c"/>
<polygon points="122.7,29.1 125.0,29.0 125.0,32.2 122.7,32.4" fill="#8b8778"/>
<polygon points="113.9,23.7 117.2,23.6 117.2,26.0 113.9,26.2" fill="#8cc63f"/>
<polygon points="122.2,23.3 125.5,23.1 125.5,25.5 122.2,25.7" fill="#8cc63f"/>
<polygon points="128.9,22.9 141.1,22.2 141.1,33.8 128.9,34.7" fill="#0c0c0c"/>
<polygon points="130.8,29.9 136.5,29.5 136.5,33.8 130.8,34.2" fill="#2e2e2c"/>
<polygon points="138.0,28.1 140.3,27.9 140.3,31.1 138.0,31.3" fill="#8b8778"/>
<polygon points="129.2,22.9 132.5,22.7 132.5,25.1 129.2,25.3" fill="#8cc63f"/>
<polygon points="137.5,22.4 140.8,22.2 140.8,24.6 137.5,24.8" fill="#8cc63f"/>
<polygon points="144.2,22.0 156.4,21.3 156.4,32.6 144.2,33.5" fill="#0c0c0c"/>
<polygon points="146.1,28.8 151.8,28.4 151.8,32.6 146.1,33.1" fill="#2e2e2c"/>
<polygon points="153.3,27.1 155.6,26.9 155.6,30.0 153.3,30.2" fill="#8b8778"/>
<polygon points="144.5,22.0 147.8,21.8 147.8,24.2 144.5,24.4" fill="#8cc63f"/>
<polygon points="152.8,21.5 156.1,21.3 156.1,23.7 152.8,23.9" fill="#8cc63f"/>
<polygon points="96.9,45.8 157.7,41.6 157.7,56.2 96.9,63.4" fill="url(#rj)"/>
<polygon points="98.7,47.8 110.8,46.9 110.8,59.2 98.7,60.6" fill="#0c0c0c"/>
<polygon points="100.5,55.3 106.2,54.8 106.2,59.4 100.5,60.0" fill="#2e2e2c"/>
<polygon points="107.7,53.2 110.0,53.0 110.0,56.4 107.7,56.7" fill="#8b8778"/>
<polygon points="99.0,47.8 102.3,47.5 102.3,50.1 99.0,50.4" fill="#8cc63f"/>
<polygon points="107.2,47.1 110.5,46.9 110.5,49.4 107.2,49.7" fill="#8cc63f"/>
<polygon points="113.9,46.6 126.0,45.7 126.0,57.5 113.9,58.9" fill="#0c0c0c"/>
<polygon points="115.7,53.8 121.4,53.3 121.4,57.7 115.7,58.3" fill="#2e2e2c"/>
<polygon points="122.9,51.8 125.2,51.6 125.2,54.9 122.9,55.1" fill="#8b8778"/>
<polygon points="114.2,46.6 117.5,46.4 117.5,48.9 114.2,49.1" fill="#8cc63f"/>
<polygon points="122.4,46.0 125.7,45.8 125.7,48.2 122.4,48.4" fill="#8cc63f"/>
<polygon points="129.1,45.5 141.2,44.6 141.2,55.8 129.1,57.2" fill="#0c0c0c"/>
<polygon points="130.9,52.4 136.6,51.8 136.6,56.0 130.9,56.7" fill="#2e2e2c"/>
<polygon points="138.1,50.4 140.4,50.2 140.4,53.3 138.1,53.5" fill="#8b8778"/>
<polygon points="129.4,45.5 132.7,45.2 132.7,47.6 129.4,47.9" fill="#8cc63f"/>
<polygon points="137.6,44.9 140.9,44.6 140.9,46.9 137.6,47.2" fill="#8cc63f"/>
<polygon points="144.3,44.4 156.4,43.5 156.4,54.2 144.3,55.5" fill="#0c0c0c"/>
<polygon points="146.1,50.9 151.8,50.3 151.8,54.4 146.1,55.0" fill="#2e2e2c"/>
<polygon points="153.3,49.0 155.6,48.8 155.6,51.7 153.3,52.0" fill="#8b8778"/>
<polygon points="144.6,44.3 147.9,44.1 147.9,46.4 144.6,46.6" fill="#8cc63f"/>
<polygon points="152.8,43.7 156.1,43.5 156.1,45.7 152.8,45.9" fill="#8cc63f"/>
<g font-family="Liberation Sans, sans-serif" font-size="2.9" fill="#d2d2d2" font-weight="400">
<g transform="translate(96.6 21.7) rotate(-3)"><text x="0" y="0" textLength="5" lengthAdjust="spacingAndGlyphs">LAN</text><text x="11.6" y="0" textLength="9.6" lengthAdjust="spacingAndGlyphs">ETH LINK</text><text x="26.6" y="0" textLength="9.6" lengthAdjust="spacingAndGlyphs">ETH LINK</text><text x="42.2" y="0" textLength="9.6" lengthAdjust="spacingAndGlyphs">ETH LINK</text><text x="57" y="0" textLength="4.6" lengthAdjust="spacingAndGlyphs">ETH</text></g>
<g transform="translate(96.9 44.7) rotate(-4)"><text x="0" y="0" textLength="5" lengthAdjust="spacingAndGlyphs">LAN</text><text x="11.6" y="0" textLength="9.6" lengthAdjust="spacingAndGlyphs">ETH LINK</text><text x="26.6" y="0" textLength="9.6" lengthAdjust="spacingAndGlyphs">ETH LINK</text><text x="42.2" y="0" textLength="9.6" lengthAdjust="spacingAndGlyphs">ETH LINK</text><text x="57" y="0" textLength="4.6" lengthAdjust="spacingAndGlyphs">ETH</text></g>
<text x="103.4" y="66.6">7</text>
<text x="118.8" y="65.0">5</text>
<text x="134.2" y="63.5">3</text>
<text x="149.6" y="61.9">1</text>
<text x="106.2" y="19.2" font-size="2.4">8</text>
<text x="121.6" y="18.4" font-size="2.4">6</text>
<text x="137.0" y="17.6" font-size="2.4">4</text>
<text x="152.4" y="16.8" font-size="2.4">2</text>
<text x="167.6" y="58.6" textLength="3" lengthAdjust="spacingAndGlyphs">10</text><text x="183.6" y="56.8">9</text>
<text x="167.6" y="18.6" font-size="2.4">12</text><text x="182.2" y="17.4" font-size="2.4">11</text>
</g>
<ellipse cx="169" cy="26.8" rx="5.6" ry="6.1" fill="url(#coax)"/>
<ellipse cx="169" cy="26.8" rx="3.9" ry="4.300" fill="none" stroke="#4a473c" stroke-width="1.1"/>
<ellipse cx="169" cy="26.8" rx="2.4" ry="2.700" fill="#c9c4ae"/>
<ellipse cx="168.8" cy="26.6" rx="1.1" ry="1.200" fill="#f5f2e6"/>
<ellipse cx="183" cy="25.5" rx="5.6" ry="6.1" fill="url(#coax)"/>
<ellipse cx="183" cy="25.5" rx="3.9" ry="4.300" fill="none" stroke="#4a473c" stroke-width="1.1"/>
<ellipse cx="183" cy="25.5" rx="2.4" ry="2.700" fill="#c9c4ae"/>
<ellipse cx="182.8" cy="25.3" rx="1.1" ry="1.200" fill="#f5f2e6"/>
<polygon points="162.7,43.4 176.3,42.2 176.3,53.2 162.7,54.8" fill="#8d896f"/>
<polygon points="163.7,44.5 175.3,43.4 175.3,52.0 163.7,53.3" fill="url(#sfp)"/>
<polygon points="171.7,44.8 173.9,44.6 173.9,47.1 171.7,47.3" fill="#bdb99f"/>
<polygon points="171.7,48.8 173.9,48.6 173.9,50.8 171.7,51.1" fill="#a8a48a"/>
<polygon points="165.4,53.6 172.2,52.8 172.2,54.8 165.4,55.6" fill="#c9c6b4"/>
<polygon points="177.7,41.6 190.3,40.4 190.3,51.6 177.7,53.0" fill="#8d896f"/>
<polygon points="178.6,42.7 189.4,41.6 189.4,50.4 178.6,51.5" fill="url(#sfp)"/>
<polygon points="186.0,43.1 188.0,42.9 188.0,45.3 186.0,45.5" fill="#bdb99f"/>
<polygon points="186.0,47.1 188.0,46.9 188.0,49.2 186.0,49.4" fill="#a8a48a"/>
<polygon points="180.2,51.8 186.5,51.1 186.5,53.1 180.2,53.9" fill="#c9c6b4"/>
</g>
</g>
<g class="switch" transform="translate(522.8 491)">
<rect x="-0.8" y="0" width="198.8" height="79.1" fill="#fff"/>
<g filter="url(#soft)">
<polygon points="0.5,12.3 6.0,6.4 96.0,0.5 104.0,0.5 189.2,5.5 196.6,11.9 196.7,57.8 192.1,64.1 73.0,79.2 6.0,63.3 0.5,59.6" fill="#121212"/>
<polygon points="0.5,12.3 6.0,6.4 96.0,0.5 104.0,0.5 189.2,5.5 196.6,11.9 196.6,13.0 72.6,19.6 0.5,13.4" fill="url(#swTop)"/>
<polygon points="74.0,4.2 100.0,1.4 150.0,4.0 126.0,8.4" fill="#0b0b0b"/>
<polygon points="0.5,13.2 72.6,19.4 196.6,12.8 196.6,14.6 72.6,21.2 0.5,15.0" fill="#262626"/>
<polygon points="0.5,15.0 72.6,21.2 73.0,79.2 6.0,63.3 0.5,59.6" fill="url(#swLeft)"/>
<polygon points="72.6,21.2 196.6,14.6 196.7,57.8 192.1,64.1 73.0,79.2" fill="url(#swRight)"/>
<line x1="72.7" y1="20" x2="73" y2="80" stroke="#262626" stroke-width="0.7"/>
<polygon points="73.0,76.4 192.1,60.4 192.1,64.1 73.0,79.2" fill="#060606"/>
<polygon points="6.0,60.2 73.0,76.4 73.0,79.2 6.0,63.3" fill="#080808"/>
<g font-family="Liberation Sans, sans-serif" font-size="3" fill="#d0d0d0" font-weight="400">
<text x="13.6" y="33.2" textLength="8.6" lengthAdjust="spacingAndGlyphs">DC 9-60V</text>
<text x="11" y="38.4" textLength="5.8" lengthAdjust="spacingAndGlyphs">PWR2</text><text x="18.2" y="39" textLength="5.8" lengthAdjust="spacingAndGlyphs">PWR1</text>
<text x="27.6" y="40.6" textLength="9.6" lengthAdjust="spacingAndGlyphs">CONSOLE</text>
<text x="41.2" y="53.2" textLength="6.6" lengthAdjust="spacingAndGlyphs">RESET</text>
<text x="11.4" y="61.2" font-size="2.6" textLength="13" lengthAdjust="spacingAndGlyphs">V2- V2+ V1- V1+</text>
<text x="74.4" y="35.6" font-size="2.7" fill="#b4b4b4" textLength="10" lengthAdjust="spacingAndGlyphs" xml:space="preserve">PWR1  9</text><text x="74.4" y="38.8" font-size="2.7" fill="#b4b4b4" textLength="10" lengthAdjust="spacingAndGlyphs" xml:space="preserve">PWR2 10</text>
<text x="75" y="67.6" font-size="2.7" fill="#b4b4b4" textLength="9.4" lengthAdjust="spacingAndGlyphs" xml:space="preserve">RUN  11</text><text x="75" y="70.9" font-size="2.7" fill="#b4b4b4" textLength="9.4" lengthAdjust="spacingAndGlyphs" xml:space="preserve">ALM  12</text>
</g>
<path d="M12.9 44.8V39.8h3.2v5M19.7 45.4V40.6h3.4v4.8" fill="none" stroke="#dedede" stroke-width="0.6"/>
<polygon points="11.0,46.0 24.6,47.0 24.6,57.4 11.0,56.4" fill="#1c3416"/>
<polygon points="11.0,46.0 24.6,47.0 24.6,49.8 11.0,48.8" fill="#74c34f"/>
<polygon points="11.0,53.2 24.6,54.4 24.6,57.4 11.0,56.4" fill="#68ba45"/>
<path d="M14.4 51l9 .8" stroke="#4f9236" stroke-width="1.6" stroke-dasharray="1.5 0.9"/>
<polygon points="27.3,41.9 38.2,43.0 38.2,60.2 27.3,58.6" fill="#b5ad9c"/>
<polygon points="28.7,44.8 36.9,45.6 36.9,55.0 35.4,54.9 35.4,57.6 33.4,57.4 33.4,56.0 31.2,55.8 31.2,57.0 29.8,56.8 29.8,54.2 28.7,54.1" fill="#0b0b0b"/>
<circle cx="54.5" cy="52.8" r="3.1" fill="url(#metal)"/>
<path d="M54.4 56v2.600l-2 1v3.400l1.600 .6v2.400l-2.400 1.400" fill="none" stroke="#a9a698" stroke-width="1.3"/>
<circle cx="58.6" cy="54" r="0.55" fill="#8a8a8a"/><circle cx="45" cy="55.400" r="0.45" fill="#333"/>
<circle cx="77.2" cy="41.9" r="2.35" fill="url(#led)"/>
<circle cx="82.6" cy="41.9" r="2.35" fill="url(#led)"/>
<circle cx="77.2" cy="48.3" r="2.35" fill="url(#led)"/>
<circle cx="82.6" cy="48.3" r="2.35" fill="url(#led)"/>
<circle cx="77.2" cy="55" r="2.35" fill="url(#led)"/>
<circle cx="82.6" cy="55" r="2.35" fill="url(#led)"/>
<circle cx="77.2" cy="61.8" r="2.35" fill="url(#led)"/>
<circle cx="82.6" cy="61.8" r="2.35" fill="url(#led)"/>
<polygon points="96.5,22.7 157.7,19.4 157.7,34.8 96.5,39.7" fill="url(#rj)"/>
<polygon points="98.3,24.6 110.5,23.9 110.5,36.1 98.3,37.0" fill="#0c0c0c"/>
<polygon points="100.2,32.0 105.9,31.6 105.9,36.1 100.2,36.5" fill="#2e2e2c"/>
<polygon points="107.4,30.1 109.7,30.0 109.7,33.3 107.4,33.5" fill="#8b8778"/>
<polygon points="98.6,24.6 101.9,24.4 101.9,27.0 98.6,27.2" fill="#8cc63f"/>
<polygon points="106.9,24.1 110.2,24.0 110.2,26.5 106.9,26.7" fill="#8cc63f"/>
<polygon points="113.6,23.8 125.8,23.1 125.8,34.9 113.6,35.8" fill="#0c0c0c"/>
<polygon points="115.5,30.9 121.2,30.5 121.2,34.9 115.5,35.4" fill="#2e2e2c"/>
<polygon points="122.7,29.1 125.0,29.0 125.0,32.2 122.7,32.4" fill="#8b8778"/>
<polygon points="113.9,23.7 117.2,23.6 117.2,26.0 113.9,26.2" fill="#8cc63f"/>
<polygon points="122.2,23.3 125.5,23.1 125.5,25.5 122.2,25.7" fill="#8cc63f"/>
<polygon points="128.9,22.9 141.1,22.2 141.1,33.8 128.9,34.7" fill="#0c0c0c"/>
<polygon points="130.8,29.9 136.5,29.5 136.5,33.8 130.8,34.2" fill="#2e2e2c"/>
<polygon points="138.0,28.1 140.3,27.9 140.3,31.1 138.0,31.3" fill="#8b8778"/>
<polygon points="129.2,22.9 132.5,22.7 132.5,25.1 129.2,25.3" fill="#8cc63f"/>
<polygon points="137.5,22.4 140.8,22.2 140.8,24.6 137.5,24.8" fill="#8cc63f"/>
<polygon points="144.2,22.0 156.4,21.3 156.4,32.6 144.2,33.5" fill="#0c0c0c"/>
<polygon points="146.1,28.8 151.8,28.4 151.8,32.6 146.1,33.1" fill="#2e2e2c"/>
<polygon points="153.3,27.1 155.6,26.9 155.6,30.0 153.3,30.2" fill="#8b8778"/>
<polygon points="144.5,22.0 147.8,21.8 147.8,24.2 144.5,24.4" fill="#8cc63f"/>
<polygon points="152.8,21.5 156.1,21.3 156.1,23.7 152.8,23.9" fill="#8cc63f"/>
<polygon points="96.9,45.8 157.7,41.6 157.7,56.2 96.9,63.4" fill="url(#rj)"/>
<polygon points="98.7,47.8 110.8,46.9 110.8,59.2 98.7,60.6" fill="#0c0c0c"/>
<polygon points="100.5,55.3 106.2,54.8 106.2,59.4 100.5,60.0" fill="#2e2e2c"/>
<polygon points="107.7,53.2 110.0,53.0 110.0,56.4 107.7,56.7" fill="#8b8778"/>
<polygon points="99.0,47.8 102.3,47.5 102.3,50.1 99.0,50.4" fill="#8cc63f"/>
<polygon points="107.2,47.1 110.5,46.9 110.5,49.4 107.2,49.7" fill="#8cc63f"/>
<polygon points="113.9,46.6 126.0,45.7 126.0,57.5 113.9,58.9" fill="#0c0c0c"/>
<polygon points="115.7,53.8 121.4,53.3 121.4,57.7 115.7,58.3" fill="#2e2e2c"/>
<polygon points="122.9,51.8 125.2,51.6 125.2,54.9 122.9,55.1" fill="#8b8778"/>
<polygon points="114.2,46.6 117.5,46.4 117.5,48.9 114.2,49.1" fill="#8cc63f"/>
<polygon points="122.4,46.0 125.7,45.8 125.7,48.2 122.4,48.4" fill="#8cc63f"/>
<polygon points="129.1,45.5 141.2,44.6 141.2,55.8 129.1,57.2" fill="#0c0c0c"/>
<polygon points="130.9,52.4 136.6,51.8 136.6,56.0 130.9,56.7" fill="#2e2e2c"/>
<polygon points="138.1,50.4 140.4,50.2 140.4,53.3 138.1,53.5" fill="#8b8778"/>
<polygon points="129.4,45.5 132.7,45.2 132.7,47.6 129.4,47.9" fill="#8cc63f"/>
<polygon points="137.6,44.9 140.9,44.6 140.9,46.9 137.6,47.2" fill="#8cc63f"/>
<polygon points="144.3,44.4 156.4,43.5 156.4,54.2 144.3,55.5" fill="#0c0c0c"/>
<polygon points="146.1,50.9 151.8,50.3 151.8,54.4 146.1,55.0" fill="#2e2e2c"/>
<polygon points="153.3,49.0 155.6,48.8 155.6,51.7 153.3,52.0" fill="#8b8778"/>
<polygon points="144.6,44.3 147.9,44.1 147.9,46.4 144.6,46.6" fill="#8cc63f"/>
<polygon points="152.8,43.7 156.1,43.5 156.1,45.7 152.8,45.9" fill="#8cc63f"/>
<g font-family="Liberation Sans, sans-serif" font-size="2.9" fill="#d2d2d2" font-weight="400">
<g transform="translate(96.6 21.7) rotate(-3)"><text x="0" y="0" textLength="5" lengthAdjust="spacingAndGlyphs">LAN</text><text x="11.6" y="0" textLength="9.6" lengthAdjust="spacingAndGlyphs">ETH LINK</text><text x="26.6" y="0" textLength="9.6" lengthAdjust="spacingAndGlyphs">ETH LINK</text><text x="42.2" y="0" textLength="9.6" lengthAdjust="spacingAndGlyphs">ETH LINK</text><text x="57" y="0" textLength="4.6" lengthAdjust="spacingAndGlyphs">ETH</text></g>
<g transform="translate(96.9 44.7) rotate(-4)"><text x="0" y="0" textLength="5" lengthAdjust="spacingAndGlyphs">LAN</text><text x="11.6" y="0" textLength="9.6" lengthAdjust="spacingAndGlyphs">ETH LINK</text><text x="26.6" y="0" textLength="9.6" lengthAdjust="spacingAndGlyphs">ETH LINK</text><text x="42.2" y="0" textLength="9.6" lengthAdjust="spacingAndGlyphs">ETH LINK</text><text x="57" y="0" textLength="4.6" lengthAdjust="spacingAndGlyphs">ETH</text></g>
<text x="103.4" y="66.6">7</text>
<text x="118.8" y="65.0">5</text>
<text x="134.2" y="63.5">3</text>
<text x="149.6" y="61.9">1</text>
<text x="106.2" y="19.2" font-size="2.4">8</text>
<text x="121.6" y="18.4" font-size="2.4">6</text>
<text x="137.0" y="17.6" font-size="2.4">4</text>
<text x="152.4" y="16.8" font-size="2.4">2</text>
<text x="167.6" y="58.6" textLength="3" lengthAdjust="spacingAndGlyphs">10</text><text x="183.6" y="56.8">9</text>
<text x="167.6" y="18.6" font-size="2.4">12</text><text x="182.2" y="17.4" font-size="2.4">11</text>
</g>
<ellipse cx="169" cy="26.8" rx="5.6" ry="6.1" fill="url(#coax)"/>
<ellipse cx="169" cy="26.8" rx="3.9" ry="4.300" fill="none" stroke="#4a473c" stroke-width="1.1"/>
<ellipse cx="169" cy="26.8" rx="2.4" ry="2.700" fill="#c9c4ae"/>
<ellipse cx="168.8" cy="26.6" rx="1.1" ry="1.200" fill="#f5f2e6"/>
<ellipse cx="183" cy="25.5" rx="5.6" ry="6.1" fill="url(#coax)"/>
<ellipse cx="183" cy="25.5" rx="3.9" ry="4.300" fill="none" stroke="#4a473c" stroke-width="1.1"/>
<ellipse cx="183" cy="25.5" rx="2.4" ry="2.700" fill="#c9c4ae"/>
<ellipse cx="182.8" cy="25.3" rx="1.1" ry="1.200" fill="#f5f2e6"/>
<polygon points="162.7,43.4 176.3,42.2 176.3,53.2 162.7,54.8" fill="#8d896f"/>
<polygon points="163.7,44.5 175.3,43.4 175.3,52.0 163.7,53.3" fill="url(#sfp)"/>
<polygon points="171.7,44.8 173.9,44.6 173.9,47.1 171.7,47.3" fill="#bdb99f"/>
<polygon points="171.7,48.8 173.9,48.6 173.9,50.8 171.7,51.1" fill="#a8a48a"/>
<polygon points="165.4,53.6 172.2,52.8 172.2,54.8 165.4,55.6" fill="#c9c6b4"/>
<polygon points="177.7,41.6 190.3,40.4 190.3,51.6 177.7,53.0" fill="#8d896f"/>
<polygon points="178.6,42.7 189.4,41.6 189.4,50.4 178.6,51.5" fill="url(#sfp)"/>
<polygon points="186.0,43.1 188.0,42.9 188.0,45.3 186.0,45.5" fill="#bdb99f"/>
<polygon points="186.0,47.1 188.0,46.9 188.0,49.2 186.0,49.4" fill="#a8a48a"/>
<polygon points="180.2,51.8 186.5,51.1 186.5,53.1 180.2,53.9" fill="#c9c6b4"/>
</g>
</g>
<use href="#camera" x="506" y="61" />
<use href="#camera" x="616.2" y="60.2" />
<use href="#camera" x="1019" y="299" />
<use href="#camera" x="1024" y="412.1" />
<use href="#camera" x="529.3" y="638" />
<use href="#camera" x="640.3" y="637.2" />
<use href="#pc" x="78" y="348" />
<use href="#marker" x="403.4" y="266.9" />
<use href="#marker" x="822" y="275.5" />
<use href="#marker" x="422.4" y="485.6" />
<use href="#marker" x="808.5" y="476.6" />
<line x1="616.9" y1="570" x2="616.9" y2="641.2" stroke="#e60012" stroke-width="3.3" />
<text transform="translate(407.40 151.10) scale(1 1.05)" font-size="18.6" font-family="Liberation Sans, 'Noto Sans CJK SC', sans-serif" font-weight="900" fill="#231815" xml:space="preserve"><tspan stroke="#231815" stroke-width="0.5" stroke-linejoin="round" textLength="45.4" lengthAdjust="spacingAndGlyphs">8<tspan font-size="23" dy="4">*</tspan><tspan dy="-4">GE</tspan></tspan><tspan x="50.6" textLength="74.4" lengthAdjust="spacingAndGlyphs">带光旁路</tspan><tspan x="130" textLength="37.4" lengthAdjust="spacingAndGlyphs">环网</tspan></text>
<text transform="translate(465.30 174.60) scale(1 1.05)" font-size="18.6" font-family="Liberation Sans, 'Noto Sans CJK SC', sans-serif" font-weight="900" fill="#231815" textLength="56.8" lengthAdjust="spacingAndGlyphs">交换机</text>
<text transform="translate(190.30 458.20) scale(1 1.05)" font-size="18.6" font-family="Liberation Sans, 'Noto Sans CJK SC', sans-serif" font-weight="900" fill="#231815" xml:space="preserve"><tspan stroke="#231815" stroke-width="0.5" stroke-linejoin="round" textLength="45.4" lengthAdjust="spacingAndGlyphs">8<tspan font-size="23" dy="4">*</tspan><tspan dy="-4">GE</tspan></tspan><tspan x="50.6" textLength="74.4" lengthAdjust="spacingAndGlyphs">带光旁路</tspan><tspan x="130" textLength="37.4" lengthAdjust="spacingAndGlyphs">环网</tspan></text>
<text transform="translate(248.90 481.60) scale(1 1.05)" font-size="18.6" font-family="Liberation Sans, 'Noto Sans CJK SC', sans-serif" font-weight="900" fill="#231815" textLength="56.8" lengthAdjust="spacingAndGlyphs">交换机</text>
<text transform="translate(829.60 422.50) scale(1 1.05)" font-size="18.6" font-family="Liberation Sans, 'Noto Sans CJK SC', sans-serif" font-weight="900" fill="#231815" xml:space="preserve"><tspan stroke="#231815" stroke-width="0.5" stroke-linejoin="round" textLength="45.4" lengthAdjust="spacingAndGlyphs">8<tspan font-size="23" dy="4">*</tspan><tspan dy="-4">GE</tspan></tspan><tspan x="50.6" textLength="74.4" lengthAdjust="spacingAndGlyphs">带光旁路</tspan><tspan x="130" textLength="37.4" lengthAdjust="spacingAndGlyphs">环网</tspan></text>
<text transform="translate(887.00 446.20) scale(1 1.05)" font-size="18.6" font-family="Liberation Sans, 'Noto Sans CJK SC', sans-serif" font-weight="900" fill="#231815" textLength="56.8" lengthAdjust="spacingAndGlyphs">交换机</text>
<text transform="translate(528.00 592.20) scale(1 1.05)" font-size="18.6" font-family="Liberation Sans, 'Noto Sans CJK SC', sans-serif" font-weight="900" fill="#231815" xml:space="preserve"><tspan stroke="#231815" stroke-width="0.5" stroke-linejoin="round" textLength="45.4" lengthAdjust="spacingAndGlyphs">8<tspan font-size="23" dy="4">*</tspan><tspan dy="-4">GE</tspan></tspan><tspan x="50.6" textLength="74.4" lengthAdjust="spacingAndGlyphs">带光旁路</tspan><tspan x="130" textLength="37.4" lengthAdjust="spacingAndGlyphs">环网</tspan></text>
<text transform="translate(585.40 616.10) scale(1 1.05)" font-size="18.6" font-family="Liberation Sans, 'Noto Sans CJK SC', sans-serif" font-weight="900" fill="#231815" textLength="56.8" lengthAdjust="spacingAndGlyphs">交换机</text>
<text transform="translate(407.40 392.90) scale(1 0.98)" font-size="21" font-family="Liberation Sans, 'Noto Sans CJK SC', sans-serif" font-weight="700" fill="#231815" stroke="#231815" stroke-width="0.35" stroke-linejoin="round"><tspan x="-0.9" textLength="22.89" lengthAdjust="spacingAndGlyphs">节</tspan><tspan x="24.1" textLength="20.16" lengthAdjust="spacingAndGlyphs">点</tspan><tspan x="43.4" y="0.2" font-size="21.6" font-family="Liberation Sans, sans-serif" stroke-width="0.4">1</tspan></text>
<text transform="translate(574.40 284.90) scale(1 0.98)" font-size="21" font-family="Liberation Sans, 'Noto Sans CJK SC', sans-serif" font-weight="700" fill="#231815" stroke="#231815" stroke-width="0.35" stroke-linejoin="round"><tspan x="-0.9" textLength="22.89" lengthAdjust="spacingAndGlyphs">节</tspan><tspan x="24.1" textLength="20.16" lengthAdjust="spacingAndGlyphs">点</tspan><tspan x="43.4" y="0.2" font-size="21.6" font-family="Liberation Sans, sans-serif" stroke-width="0.4">2</tspan></text>
<text transform="translate(738.30 372.90) scale(1 0.98)" font-size="21" font-family="Liberation Sans, 'Noto Sans CJK SC', sans-serif" font-weight="700" fill="#231815" stroke="#231815" stroke-width="0.35" stroke-linejoin="round"><tspan x="-0.9" textLength="22.89" lengthAdjust="spacingAndGlyphs">节</tspan><tspan x="24.1" textLength="20.16" lengthAdjust="spacingAndGlyphs">点</tspan><tspan x="43.4" y="0.2" font-size="21.6" font-family="Liberation Sans, sans-serif" stroke-width="0.4">3</tspan></text>
<text transform="translate(582.40 480.90) scale(1 0.98)" font-size="21" font-family="Liberation Sans, 'Noto Sans CJK SC', sans-serif" font-weight="700" fill="#231815" stroke="#231815" stroke-width="0.35" stroke-linejoin="round"><tspan x="-0.9" textLength="22.89" lengthAdjust="spacingAndGlyphs">节</tspan><tspan x="24.1" textLength="20.16" lengthAdjust="spacingAndGlyphs">点</tspan><tspan x="43.7" y="0" font-size="23" font-family="Liberation Serif, serif" stroke-width="0.9" textLength="11.96" lengthAdjust="spacingAndGlyphs">N</tspan></text>
<text x="489.3" y="794.6" font-size="24.5" font-family="Liberation Sans, 'Noto Sans CJK SC', sans-serif" font-weight="700" fill="#231815" text-anchor="start" textLength="228.8" lengthAdjust="spacingAndGlyphs" >节点N掉电时，光直通</text>
<text x="560.5" y="49.5" font-size="16" font-family="Liberation Serif, 'Noto Serif CJK SC', serif" fill="#3a3a3a" text-anchor="start" textLength="90.5" lengthAdjust="spacingAndGlyphs" letter-spacing="2">网络摄像机</text>
<text x="1013.8" y="482.6" font-size="16" font-family="Liberation Serif, 'Noto Serif CJK SC', serif" fill="#3a3a3a" text-anchor="start" textLength="90.5" lengthAdjust="spacingAndGlyphs" letter-spacing="2">网络摄像机</text>
<text x="567.5" y="705.5" font-size="16" font-family="Liberation Serif, 'Noto Serif CJK SC', serif" fill="#3a3a3a" text-anchor="start" textLength="90.5" lengthAdjust="spacingAndGlyphs" letter-spacing="2">网络摄像机</text>
<rect x="925" y="396.6" width="3.2" height="3.2" fill="#231815"/>
<text transform="translate(374.4 246.2) rotate(-37.2)" x="1.35" y="5.77" text-anchor="middle" font-size="15.6" letter-spacing="2.7" font-family="Liberation Serif, 'Noto Serif CJK SC', serif" fill="#1a1a1a">光纤网络</text>
<text transform="translate(836.9 250.9) rotate(26.4)" x="1.35" y="5.77" text-anchor="middle" font-size="15.6" letter-spacing="2.7" font-family="Liberation Serif, 'Noto Serif CJK SC', serif" fill="#1a1a1a">光纤网络</text>
<text transform="translate(388.3 515.6) rotate(34.1)" x="1.35" y="5.77" text-anchor="middle" font-size="15.6" letter-spacing="2.7" font-family="Liberation Serif, 'Noto Serif CJK SC', serif" fill="#1a1a1a">光纤网络</text>
<text transform="translate(804.7 522) rotate(-28.5)" x="1.35" y="5.77" text-anchor="middle" font-size="15.6" letter-spacing="2.7" font-family="Liberation Serif, 'Noto Serif CJK SC', serif" fill="#1a1a1a">光纤网络</text>
<text transform="translate(850.85 495.25) rotate(-29.5)" x="1.35" y="5.77" text-anchor="middle" font-size="15.6" letter-spacing="2.7" font-family="Liberation Serif, 'Noto Serif CJK SC', serif" fill="#1a1a1a">光纤网络</text>
<text transform="translate(72.3 410.6) rotate(-90)" font-size="18.8" font-family="Liberation Serif, 'Noto Serif CJK SC', serif" fill="#231815"><tspan font-size="13.6">1</tspan><tspan dx="0.6">-</tspan><tspan dx="2.2" textLength="34.2" lengthAdjust="spacingAndGlyphs">8GE</tspan></text>
</g>
<g id="watermark">
<g transform="translate(-88.0 -15.8)"><use href="#logo"/><use href="#logoGlow" style="mix-blend-mode:screen"/><g transform="rotate(-31.5)" fill="#000" filter="url(#soft2)"><text x="19.2" y="1.9" font-size="13.2" letter-spacing="5.4" font-weight="700" fill-opacity="0.1" font-family="Liberation Sans, 'Noto Sans CJK SC', sans-serif">飞畅科技</text><text x="21.5" y="9.4" font-size="7.4" letter-spacing="0.8" fill-opacity="0.11" font-family="Liberation Sans, sans-serif">Fctel Technology</text></g></g>
<g transform="translate(49.0 -15.8)"><use href="#logo"/><use href="#logoGlow" style="mix-blend-mode:screen"/><g transform="rotate(-31.5)" fill="#000" filter="url(#soft2)"><text x="19.2" y="1.9" font-size="13.2" letter-spacing="5.4" font-weight="700" fill-opacity="0.1" font-family="Liberation Sans, 'Noto Sans CJK SC', sans-serif">飞畅科技</text><text x="21.5" y="9.4" font-size="7.4" letter-spacing="0.8" fill-opacity="0.11" font-family="Liberation Sans, sans-serif">Fctel Technology</text></g></g>
<g transform="translate(193.0 -15.8)"><use href="#logo"/><use href="#logoGlow" style="mix-blend-mode:screen"/><g transform="rotate(-31.5)" fill="#000" filter="url(#soft2)"><text x="19.2" y="1.9" font-size="13.2" letter-spacing="5.4" font-weight="700" fill-opacity="0.1" font-family="Liberation Sans, 'Noto Sans CJK SC', sans-serif">飞畅科技</text><text x="21.5" y="9.4" font-size="7.4" letter-spacing="0.8" fill-opacity="0.11" font-family="Liberation Sans, sans-serif">Fctel Technology</text></g></g>
<g transform="translate(337.0 -15.8)"><use href="#logo"/><use href="#logoGlow" style="mix-blend-mode:screen"/><g transform="rotate(-31.5)" fill="#000" filter="url(#soft2)"><text x="19.2" y="1.9" font-size="13.2" letter-spacing="5.4" font-weight="700" fill-opacity="0.1" font-family="Liberation Sans, 'Noto Sans CJK SC', sans-serif">飞畅科技</text><text x="21.5" y="9.4" font-size="7.4" letter-spacing="0.8" fill-opacity="0.11" font-family="Liberation Sans, sans-serif">Fctel Technology</text></g></g>
<g transform="translate(481.0 -15.8)"><use href="#logo"/><use href="#logoGlow" style="mix-blend-mode:screen"/><g transform="rotate(-31.5)" fill="#000" filter="url(#soft2)"><text x="19.2" y="1.9" font-size="13.2" letter-spacing="5.4" font-weight="700" fill-opacity="0.1" font-family="Liberation Sans, 'Noto Sans CJK SC', sans-serif">飞畅科技</text><text x="21.5" y="9.4" font-size="7.4" letter-spacing="0.8" fill-opacity="0.11" font-family="Liberation Sans, sans-serif">Fctel Technology</text></g></g>
<g transform="translate(625.0 -15.8)"><use href="#logo"/><use href="#logoGlow" style="mix-blend-mode:screen"/><g transform="rotate(-31.5)" fill="#000" filter="url(#soft2)"><text x="19.2" y="1.9" font-size="13.2" letter-spacing="5.4" font-weight="700" fill-opacity="0.1" font-family="Liberation Sans, 'Noto Sans CJK SC', sans-serif">飞畅科技</text><text x="21.5" y="9.4" font-size="7.4" letter-spacing="0.8" fill-opacity="0.11" font-family="Liberation Sans, sans-serif">Fctel Technology</text></g></g>
<g transform="translate(769.0 -15.8)"><use href="#logo"/><use href="#logoGlow" style="mix-blend-mode:screen"/><g transform="rotate(-31.5)" fill="#000" filter="url(#soft2)"><text x="19.2" y="1.9" font-size="13.2" letter-spacing="5.4" font-weight="700" fill-opacity="0.1" font-family="Liberation Sans, 'Noto Sans CJK SC', sans-serif">飞畅科技</text><text x="21.5" y="9.4" font-size="7.4" letter-spacing="0.8" fill-opacity="0.11" font-family="Liberation Sans, sans-serif">Fctel Technology</text></g></g>
<g transform="translate(906.0 -15.8)"><use href="#logo"/><use href="#logoGlow" style="mix-blend-mode:screen"/><g transform="rotate(-31.5)" fill="#000" filter="url(#soft2)"><text x="19.2" y="1.9" font-size="13.2" letter-spacing="5.4" font-weight="700" fill-opacity="0.1" font-family="Liberation Sans, 'Noto Sans CJK SC', sans-serif">飞畅科技</text><text x="21.5" y="9.4" font-size="7.4" letter-spacing="0.8" fill-opacity="0.11" font-family="Liberation Sans, sans-serif">Fctel Technology</text></g></g>
<g transform="translate(1050.0 -15.8)"><use href="#logo"/><use href="#logoGlow" style="mix-blend-mode:screen"/><g transform="rotate(-31.5)" fill="#000" filter="url(#soft2)"><text x="19.2" y="1.9" font-size="13.2" letter-spacing="5.4" font-weight="700" fill-opacity="0.1" font-family="Liberation Sans, 'Noto Sans CJK SC', sans-serif">飞畅科技</text><text x="21.5" y="9.4" font-size="7.4" letter-spacing="0.8" fill-opacity="0.11" font-family="Liberation Sans, sans-serif">Fctel Technology</text></g></g>
<g transform="translate(1194.0 -15.8)"><use href="#logo"/><use href="#logoGlow" style="mix-blend-mode:screen"/><g transform="rotate(-31.5)" fill="#000" filter="url(#soft2)"><text x="19.2" y="1.9" font-size="13.2" letter-spacing="5.4" font-weight="700" fill-opacity="0.1" font-family="Liberation Sans, 'Noto Sans CJK SC', sans-serif">飞畅科技</text><text x="21.5" y="9.4" font-size="7.4" letter-spacing="0.8" fill-opacity="0.11" font-family="Liberation Sans, sans-serif">Fctel Technology</text></g></g>
<g transform="translate(-83.5 132.8)"><use href="#logo"/><use href="#logoGlow" style="mix-blend-mode:screen"/><g transform="rotate(-31.5)" fill="#000" filter="url(#soft2)"><text x="19.2" y="1.9" font-size="13.2" letter-spacing="5.4" font-weight="700" fill-opacity="0.1" font-family="Liberation Sans, 'Noto Sans CJK SC', sans-serif">飞畅科技</text><text x="21.5" y="9.4" font-size="7.4" letter-spacing="0.8" fill-opacity="0.11" font-family="Liberation Sans, sans-serif">Fctel Technology</text></g></g>
<g transform="translate(-95.0 290.3)"><use href="#logo"/><use href="#logoGlow" style="mix-blend-mode:screen"/><g transform="rotate(-31.5)" fill="#000" filter="url(#soft2)"><text x="19.2" y="1.9" font-size="13.2" letter-spacing="5.4" font-weight="700" fill-opacity="0.1" font-family="Liberation Sans, 'Noto Sans CJK SC', sans-serif">飞畅科技</text><text x="21.5" y="9.4" font-size="7.4" letter-spacing="0.8" fill-opacity="0.11" font-family="Liberation Sans, sans-serif">Fctel Technology</text></g></g>
<g transform="translate(-80.0 446.2)"><use href="#logo"/><use href="#logoGlow" style="mix-blend-mode:screen"/><g transform="rotate(-31.5)" fill="#000" filter="url(#soft2)"><text x="19.2" y="1.9" font-size="13.2" letter-spacing="5.4" font-weight="700" fill-opacity="0.1" font-family="Liberation Sans, 'Noto Sans CJK SC', sans-serif">飞畅科技</text><text x="21.5" y="9.4" font-size="7.4" letter-spacing="0.8" fill-opacity="0.11" font-family="Liberation Sans, sans-serif">Fctel Technology</text></g></g>
<g transform="translate(28.5 54.1)"><use href="#logo"/><use href="#logoGlow" style="mix-blend-mode:screen"/><g transform="rotate(-31.5)" fill="#000" filter="url(#soft2)"><text x="19.2" y="1.9" font-size="13.2" letter-spacing="5.4" font-weight="700" fill-opacity="0.1" font-family="Liberation Sans, 'Noto Sans CJK SC', sans-serif">飞畅科技</text><text x="21.5" y="9.4" font-size="7.4" letter-spacing="0.8" fill-opacity="0.11" font-family="Liberation Sans, sans-serif">Fctel Technology</text></g></g>
<g transform="translate(172.5 54.1)"><use href="#logo"/><use href="#logoGlow" style="mix-blend-mode:screen"/><g transform="rotate(-31.5)" fill="#000" filter="url(#soft2)"><text x="19.2" y="1.9" font-size="13.2" letter-spacing="5.4" font-weight="700" fill-opacity="0.1" font-family="Liberation Sans, 'Noto Sans CJK SC', sans-serif">飞畅科技</text><text x="21.5" y="9.4" font-size="7.4" letter-spacing="0.8" fill-opacity="0.11" font-family="Liberation Sans, sans-serif">Fctel Technology</text></g></g>
<g transform="translate(316.5 54.1)"><use href="#logo"/><use href="#logoGlow" style="mix-blend-mode:screen"/><g transform="rotate(-31.5)" fill="#000" filter="url(#soft2)"><text x="19.2" y="1.9" font-size="13.2" letter-spacing="5.4" font-weight="700" fill-opacity="0.1" font-family="Liberation Sans, 'Noto Sans CJK SC', sans-serif">飞畅科技</text><text x="21.5" y="9.4" font-size="7.4" letter-spacing="0.8" fill-opacity="0.11" font-family="Liberation Sans, sans-serif">Fctel Technology</text></g></g>
<g transform="translate(460.5 54.1)"><use href="#logo"/><use href="#logoGlow" style="mix-blend-mode:screen"/><g transform="rotate(-31.5)" fill="#000" filter="url(#soft2)"><text x="19.2" y="1.9" font-size="13.2" letter-spacing="5.4" font-weight="700" fill-opacity="0.1" font-family="Liberation Sans, 'Noto Sans CJK SC', sans-serif">飞畅科技</text><text x="21.5" y="9.4" font-size="7.4" letter-spacing="0.8" fill-opacity="0.11" font-family="Liberation Sans, sans-serif">Fctel Technology</text></g></g>
<g transform="translate(604.5 54.1)"><use href="#logo"/><use href="#logoGlow" style="mix-blend-mode:screen"/><g transform="rotate(-31.5)" fill="#000" filter="url(#soft2)"><text x="19.2" y="1.9" font-size="13.2" letter-spacing="5.4" font-weight="700" fill-opacity="0.1" font-family="Liberation Sans, 'Noto Sans CJK SC', sans-serif">飞畅科技</text><text x="21.5" y="9.4" font-size="7.4" letter-spacing="0.8" fill-opacity="0.11" font-family="Liberation Sans, sans-serif">Fctel Technology</text></g></g>
<g transform="translate(748.5 54.1)"><use href="#logo"/><use href="#logoGlow" style="mix-blend-mode:screen"/><g transform="rotate(-31.5)" fill="#000" filter="url(#soft2)"><text x="19.2" y="1.9" font-size="13.2" letter-spacing="5.4" font-weight="700" fill-opacity="0.1" font-family="Liberation Sans, 'Noto Sans CJK SC', sans-serif">飞畅科技</text><text x="21.5" y="9.4" font-size="7.4" letter-spacing="0.8" fill-opacity="0.11" font-family="Liberation Sans, sans-serif">Fctel Technology</text></g></g>
<g transform="translate(53.5 132.8)"><use href="#logo"/><use href="#logoGlow" style="mix-blend-mode:screen"/><g transform="rotate(-31.5)" fill="#000" filter="url(#soft2)"><text x="19.2" y="1.9" font-size="13.2" letter-spacing="5.4" font-weight="700" fill-opacity="0.1" font-family="Liberation Sans, 'Noto Sans CJK SC', sans-serif">飞畅科技</text><text x="21.5" y="9.4" font-size="7.4" letter-spacing="0.8" fill-opacity="0.11" font-family="Liberation Sans, sans-serif">Fctel Technology</text></g></g>
<g transform="translate(197.5 132.8)"><use href="#logo"/><use href="#logoGlow" style="mix-blend-mode:screen"/><g transform="rotate(-31.5)" fill="#000" filter="url(#soft2)"><text x="19.2" y="1.9" font-size="13.2" letter-spacing="5.4" font-weight="700" fill-opacity="0.1" font-family="Liberation Sans, 'Noto Sans CJK SC', sans-serif">飞畅科技</text><text x="21.5" y="9.4" font-size="7.4" letter-spacing="0.8" fill-opacity="0.11" font-family="Liberation Sans, sans-serif">Fctel Technology</text></g></g>
<g transform="translate(341.5 132.8)"><use href="#logo"/><use href="#logoGlow" style="mix-blend-mode:screen"/><g transform="rotate(-31.5)" fill="#000" filter="url(#soft2)"><text x="19.2" y="1.9" font-size="13.2" letter-spacing="5.4" font-weight="700" fill-opacity="0.1" font-family="Liberation Sans, 'Noto Sans CJK SC', sans-serif">飞畅科技</text><text x="21.5" y="9.4" font-size="7.4" letter-spacing="0.8" fill-opacity="0.11" font-family="Liberation Sans, sans-serif">Fctel Technology</text></g></g>
<g transform="translate(485.5 132.8)"><use href="#logo"/><use href="#logoGlow" style="mix-blend-mode:screen"/><g transform="rotate(-31.5)" fill="#000" filter="url(#soft2)"><text x="19.2" y="1.9" font-size="13.2" letter-spacing="5.4" font-weight="700" fill-opacity="0.1" font-family="Liberation Sans, 'Noto Sans CJK SC', sans-serif">飞畅科技</text><text x="21.5" y="9.4" font-size="7.4" letter-spacing="0.8" fill-opacity="0.11" font-family="Liberation Sans, sans-serif">Fctel Technology</text></g></g>
<g transform="translate(629.5 132.8)"><use href="#logo"/><use href="#logoGlow" style="mix-blend-mode:screen"/><g transform="rotate(-31.5)" fill="#000" filter="url(#soft2)"><text x="19.2" y="1.9" font-size="13.2" letter-spacing="5.4" font-weight="700" fill-opacity="0.1" font-family="Liberation Sans, 'Noto Sans CJK SC', sans-serif">飞畅科技</text><text x="21.5" y="9.4" font-size="7.4" letter-spacing="0.8" fill-opacity="0.11" font-family="Liberation Sans, sans-serif">Fctel Technology</text></g></g>
<g transform="translate(773.5 132.8)"><use href="#logo"/><use href="#logoGlow" style="mix-blend-mode:screen"/><g transform="rotate(-31.5)" fill="#000" filter="url(#soft2)"><text x="19.2" y="1.9" font-size="13.2" letter-spacing="5.4" font-weight="700" fill-opacity="0.1" font-family="Liberation Sans, 'Noto Sans CJK SC', sans-serif">飞畅科技</text><text x="21.5" y="9.4" font-size="7.4" letter-spacing="0.8" fill-opacity="0.11" font-family="Liberation Sans, sans-serif">Fctel Technology</text></g></g>
<g transform="translate(16.0 211.1)"><use href="#logo"/><use href="#logoGlow" style="mix-blend-mode:screen"/><g transform="rotate(-31.5)" fill="#000" filter="url(#soft2)"><text x="19.2" y="1.9" font-size="13.2" letter-spacing="5.4" font-weight="700" fill-opacity="0.1" font-family="Liberation Sans, 'Noto Sans CJK SC', sans-serif">飞畅科技</text><text x="21.5" y="9.4" font-size="7.4" letter-spacing="0.8" fill-opacity="0.11" font-family="Liberation Sans, sans-serif">Fctel Technology</text></g></g>
<g transform="translate(160.0 211.1)"><use href="#logo"/><use href="#logoGlow" style="mix-blend-mode:screen"/><g transform="rotate(-31.5)" fill="#000" filter="url(#soft2)"><text x="19.2" y="1.9" font-size="13.2" letter-spacing="5.4" font-weight="700" fill-opacity="0.1" font-family="Liberation Sans, 'Noto Sans CJK SC', sans-serif">飞畅科技</text><text x="21.5" y="9.4" font-size="7.4" letter-spacing="0.8" fill-opacity="0.11" font-family="Liberation Sans, sans-serif">Fctel Technology</text></g></g>
<g transform="translate(304.0 211.1)"><use href="#logo"/><use href="#logoGlow" style="mix-blend-mode:screen"/><g transform="rotate(-31.5)" fill="#000" filter="url(#soft2)"><text x="19.2" y="1.9" font-size="13.2" letter-spacing="5.4" font-weight="700" fill-opacity="0.1" font-family="Liberation Sans, 'Noto Sans CJK SC', sans-serif">飞畅科技</text><text x="21.5" y="9.4" font-size="7.4" letter-spacing="0.8" fill-opacity="0.11" font-family="Liberation Sans, sans-serif">Fctel Technology</text></g></g>
<g transform="translate(448.0 211.1)"><use href="#logo"/><use href="#logoGlow" style="mix-blend-mode:screen"/><g transform="rotate(-31.5)" fill="#000" filter="url(#soft2)"><text x="19.2" y="1.9" font-size="13.2" letter-spacing="5.4" font-weight="700" fill-opacity="0.1" font-family="Liberation Sans, 'Noto Sans CJK SC', sans-serif">飞畅科技</text><text x="21.5" y="9.4" font-size="7.4" letter-spacing="0.8" fill-opacity="0.11" font-family="Liberation Sans, sans-serif">Fctel Technology</text></g></g>
<g transform="translate(592.0 211.1)"><use href="#logo"/><use href="#logoGlow" style="mix-blend-mode:screen"/><g transform="rotate(-31.5)" fill="#000" filter="url(#soft2)"><text x="19.2" y="1.9" font-size="13.2" letter-spacing="5.4" font-weight="700" fill-opacity="0.1" font-family="Liberation Sans, 'Noto Sans CJK SC', sans-serif">飞畅科技</text><text x="21.5" y="9.4" font-size="7.4" letter-spacing="0.8" fill-opacity="0.11" font-family="Liberation Sans, sans-serif">Fctel Technology</text></g></g>
<g transform="translate(736.0 211.1)"><use href="#logo"/><use href="#logoGlow" style="mix-blend-mode:screen"/><g transform="rotate(-31.5)" fill="#000" filter="url(#soft2)"><text x="19.2" y="1.9" font-size="13.2" letter-spacing="5.4" font-weight="700" fill-opacity="0.1" font-family="Liberation Sans, 'Noto Sans CJK SC', sans-serif">飞畅科技</text><text x="21.5" y="9.4" font-size="7.4" letter-spacing="0.8" fill-opacity="0.11" font-family="Liberation Sans, sans-serif">Fctel Technology</text></g></g>
<g transform="translate(42.0 290.3)"><use href="#logo"/><use href="#logoGlow" style="mix-blend-mode:screen"/><g transform="rotate(-31.5)" fill="#000" filter="url(#soft2)"><text x="19.2" y="1.9" font-size="13.2" letter-spacing="5.4" font-weight="700" fill-opacity="0.1" font-family="Liberation Sans, 'Noto Sans CJK SC', sans-serif">飞畅科技</text><text x="21.5" y="9.4" font-size="7.4" letter-spacing="0.8" fill-opacity="0.11" font-family="Liberation Sans, sans-serif">Fctel Technology</text></g></g>
<g transform="translate(186.0 290.3)"><use href="#logo"/><use href="#logoGlow" style="mix-blend-mode:screen"/><g transform="rotate(-31.5)" fill="#000" filter="url(#soft2)"><text x="19.2" y="1.9" font-size="13.2" letter-spacing="5.4" font-weight="700" fill-opacity="0.1" font-family="Liberation Sans, 'Noto Sans CJK SC', sans-serif">飞畅科技</text><text x="21.5" y="9.4" font-size="7.4" letter-spacing="0.8" fill-opacity="0.11" font-family="Liberation Sans, sans-serif">Fctel Technology</text></g></g>
<g transform="translate(330.0 290.3)"><use href="#logo"/><use href="#logoGlow" style="mix-blend-mode:screen"/><g transform="rotate(-31.5)" fill="#000" filter="url(#soft2)"><text x="19.2" y="1.9" font-size="13.2" letter-spacing="5.4" font-weight="700" fill-opacity="0.1" font-family="Liberation Sans, 'Noto Sans CJK SC', sans-serif">飞畅科技</text><text x="21.5" y="9.4" font-size="7.4" letter-spacing="0.8" fill-opacity="0.11" font-family="Liberation Sans, sans-serif">Fctel Technology</text></g></g>
<g transform="translate(474.0 290.3)"><use href="#logo"/><use href="#logoGlow" style="mix-blend-mode:screen"/><g transform="rotate(-31.5)" fill="#000" filter="url(#soft2)"><text x="19.2" y="1.9" font-size="13.2" letter-spacing="5.4" font-weight="700" fill-opacity="0.1" font-family="Liberation Sans, 'Noto Sans CJK SC', sans-serif">飞畅科技</text><text x="21.5" y="9.4" font-size="7.4" letter-spacing="0.8" fill-opacity="0.11" font-family="Liberation Sans, sans-serif">Fctel Technology</text></g></g>
<g transform="translate(618.0 290.3)"><use href="#logo"/><use href="#logoGlow" style="mix-blend-mode:screen"/><g transform="rotate(-31.5)" fill="#000" filter="url(#soft2)"><text x="19.2" y="1.9" font-size="13.2" letter-spacing="5.4" font-weight="700" fill-opacity="0.1" font-family="Liberation Sans, 'Noto Sans CJK SC', sans-serif">飞畅科技</text><text x="21.5" y="9.4" font-size="7.4" letter-spacing="0.8" fill-opacity="0.11" font-family="Liberation Sans, sans-serif">Fctel Technology</text></g></g>
<g transform="translate(762.0 290.3)"><use href="#logo"/><use href="#logoGlow" style="mix-blend-mode:screen"/><g transform="rotate(-31.5)" fill="#000" filter="url(#soft2)"><text x="19.2" y="1.9" font-size="13.2" letter-spacing="5.4" font-weight="700" fill-opacity="0.1" font-family="Liberation Sans, 'Noto Sans CJK SC', sans-serif">飞畅科技</text><text x="21.5" y="9.4" font-size="7.4" letter-spacing="0.8" fill-opacity="0.11" font-family="Liberation Sans, sans-serif">Fctel Technology</text></g></g>
<g transform="translate(31.8 367.5)"><use href="#logo"/><use href="#logoGlow" style="mix-blend-mode:screen"/><g transform="rotate(-31.5)" fill="#000" filter="url(#soft2)"><text x="19.2" y="1.9" font-size="13.2" letter-spacing="5.4" font-weight="700" fill-opacity="0.1" font-family="Liberation Sans, 'Noto Sans CJK SC', sans-serif">飞畅科技</text><text x="21.5" y="9.4" font-size="7.4" letter-spacing="0.8" fill-opacity="0.11" font-family="Liberation Sans, sans-serif">Fctel Technology</text></g></g>
<g transform="translate(175.8 367.5)"><use href="#logo"/><use href="#logoGlow" style="mix-blend-mode:screen"/><g transform="rotate(-31.5)" fill="#000" filter="url(#soft2)"><text x="19.2" y="1.9" font-size="13.2" letter-spacing="5.4" font-weight="700" fill-opacity="0.1" font-family="Liberation Sans, 'Noto Sans CJK SC', sans-serif">飞畅科技</text><text x="21.5" y="9.4" font-size="7.4" letter-spacing="0.8" fill-opacity="0.11" font-family="Liberation Sans, sans-serif">Fctel Technology</text></g></g>
<g transform="translate(319.8 367.5)"><use href="#logo"/><use href="#logoGlow" style="mix-blend-mode:screen"/><g transform="rotate(-31.5)" fill="#000" filter="url(#soft2)"><text x="19.2" y="1.9" font-size="13.2" letter-spacing="5.4" font-weight="700" fill-opacity="0.1" font-family="Liberation Sans, 'Noto Sans CJK SC', sans-serif">飞畅科技</text><text x="21.5" y="9.4" font-size="7.4" letter-spacing="0.8" fill-opacity="0.11" font-family="Liberation Sans, sans-serif">Fctel Technology</text></g></g>
<g transform="translate(463.8 367.5)"><use href="#logo"/><use href="#logoGlow" style="mix-blend-mode:screen"/><g transform="rotate(-31.5)" fill="#000" filter="url(#soft2)"><text x="19.2" y="1.9" font-size="13.2" letter-spacing="5.4" font-weight="700" fill-opacity="0.1" font-family="Liberation Sans, 'Noto Sans CJK SC', sans-serif">飞畅科技</text><text x="21.5" y="9.4" font-size="7.4" letter-spacing="0.8" fill-opacity="0.11" font-family="Liberation Sans, sans-serif">Fctel Technology</text></g></g>
<g transform="translate(607.8 367.5)"><use href="#logo"/><use href="#logoGlow" style="mix-blend-mode:screen"/><g transform="rotate(-31.5)" fill="#000" filter="url(#soft2)"><text x="19.2" y="1.9" font-size="13.2" letter-spacing="5.4" font-weight="700" fill-opacity="0.1" font-family="Liberation Sans, 'Noto Sans CJK SC', sans-serif">飞畅科技</text><text x="21.5" y="9.4" font-size="7.4" letter-spacing="0.8" fill-opacity="0.11" font-family="Liberation Sans, sans-serif">Fctel Technology</text></g></g>
<g transform="translate(751.8 367.5)"><use href="#logo"/><use href="#logoGlow" style="mix-blend-mode:screen"/><g transform="rotate(-31.5)" fill="#000" filter="url(#soft2)"><text x="19.2" y="1.9" font-size="13.2" letter-spacing="5.4" font-weight="700" fill-opacity="0.1" font-family="Liberation Sans, 'Noto Sans CJK SC', sans-serif">飞畅科技</text><text x="21.5" y="9.4" font-size="7.4" letter-spacing="0.8" fill-opacity="0.11" font-family="Liberation Sans, sans-serif">Fctel Technology</text></g></g>
<g transform="translate(57.0 446.2)"><use href="#logo"/><use href="#logoGlow" style="mix-blend-mode:screen"/><g transform="rotate(-31.5)" fill="#000" filter="url(#soft2)"><text x="19.2" y="1.9" font-size="13.2" letter-spacing="5.4" font-weight="700" fill-opacity="0.1" font-family="Liberation Sans, 'Noto Sans CJK SC', sans-serif">飞畅科技</text><text x="21.5" y="9.4" font-size="7.4" letter-spacing="0.8" fill-opacity="0.11" font-family="Liberation Sans, sans-serif">Fctel Technology</text></g></g>
<g transform="translate(201.0 446.2)"><use href="#logo"/><use href="#logoGlow" style="mix-blend-mode:screen"/><g transform="rotate(-31.5)" fill="#000" filter="url(#soft2)"><text x="19.2" y="1.9" font-size="13.2" letter-spacing="5.4" font-weight="700" fill-opacity="0.1" font-family="Liberation Sans, 'Noto Sans CJK SC', sans-serif">飞畅科技</text><text x="21.5" y="9.4" font-size="7.4" letter-spacing="0.8" fill-opacity="0.11" font-family="Liberation Sans, sans-serif">Fctel Technology</text></g></g>
<g transform="translate(345.0 446.2)"><use href="#logo"/><use href="#logoGlow" style="mix-blend-mode:screen"/><g transform="rotate(-31.5)" fill="#000" filter="url(#soft2)"><text x="19.2" y="1.9" font-size="13.2" letter-spacing="5.4" font-weight="700" fill-opacity="0.1" font-family="Liberation Sans, 'Noto Sans CJK SC', sans-serif">飞畅科技</text><text x="21.5" y="9.4" font-size="7.4" letter-spacing="0.8" fill-opacity="0.11" font-family="Liberation Sans, sans-serif">Fctel Technology</text></g></g>
<g transform="translate(489.0 446.2)"><use href="#logo"/><use href="#logoGlow" style="mix-blend-mode:screen"/><g transform="rotate(-31.5)" fill="#000" filter="url(#soft2)"><text x="19.2" y="1.9" font-size="13.2" letter-spacing="5.4" font-weight="700" fill-opacity="0.1" font-family="Liberation Sans, 'Noto Sans CJK SC', sans-serif">飞畅科技</text><text x="21.5" y="9.4" font-size="7.4" letter-spacing="0.8" fill-opacity="0.11" font-family="Liberation Sans, sans-serif">Fctel Technology</text></g></g>
<g transform="translate(633.0 446.2)"><use href="#logo"/><use href="#logoGlow" style="mix-blend-mode:screen"/><g transform="rotate(-31.5)" fill="#000" filter="url(#soft2)"><text x="19.2" y="1.9" font-size="13.2" letter-spacing="5.4" font-weight="700" fill-opacity="0.1" font-family="Liberation Sans, 'Noto Sans CJK SC', sans-serif">飞畅科技</text><text x="21.5" y="9.4" font-size="7.4" letter-spacing="0.8" fill-opacity="0.11" font-family="Liberation Sans, sans-serif">Fctel Technology</text></g></g>
<g transform="translate(777.0 446.2)"><use href="#logo"/><use href="#logoGlow" style="mix-blend-mode:screen"/><g transform="rotate(-31.5)" fill="#000" filter="url(#soft2)"><text x="19.2" y="1.9" font-size="13.2" letter-spacing="5.4" font-weight="700" fill-opacity="0.1" font-family="Liberation Sans, 'Noto Sans CJK SC', sans-serif">飞畅科技</text><text x="21.5" y="9.4" font-size="7.4" letter-spacing="0.8" fill-opacity="0.11" font-family="Liberation Sans, sans-serif">Fctel Technology</text></g></g>
<g transform="translate(885.5 54.1)"><use href="#logo"/><use href="#logoGlow" style="mix-blend-mode:screen"/><g transform="rotate(-31.5)" fill="#000" filter="url(#soft2)"><text x="19.2" y="1.9" font-size="13.2" letter-spacing="5.4" font-weight="700" fill-opacity="0.1" font-family="Liberation Sans, 'Noto Sans CJK SC', sans-serif">飞畅科技</text><text x="21.5" y="9.4" font-size="7.4" letter-spacing="0.8" fill-opacity="0.11" font-family="Liberation Sans, sans-serif">Fctel Technology</text></g></g>
<g transform="translate(1029.5 54.1)"><use href="#logo"/><use href="#logoGlow" style="mix-blend-mode:screen"/><g transform="rotate(-31.5)" fill="#000" filter="url(#soft2)"><text x="19.2" y="1.9" font-size="13.2" letter-spacing="5.4" font-weight="700" fill-opacity="0.1" font-family="Liberation Sans, 'Noto Sans CJK SC', sans-serif">飞畅科技</text><text x="21.5" y="9.4" font-size="7.4" letter-spacing="0.8" fill-opacity="0.11" font-family="Liberation Sans, sans-serif">Fctel Technology</text></g></g>
<g transform="translate(1173.5 54.1)"><use href="#logo"/><use href="#logoGlow" style="mix-blend-mode:screen"/><g transform="rotate(-31.5)" fill="#000" filter="url(#soft2)"><text x="19.2" y="1.9" font-size="13.2" letter-spacing="5.4" font-weight="700" fill-opacity="0.1" font-family="Liberation Sans, 'Noto Sans CJK SC', sans-serif">飞畅科技</text><text x="21.5" y="9.4" font-size="7.4" letter-spacing="0.8" fill-opacity="0.11" font-family="Liberation Sans, sans-serif">Fctel Technology</text></g></g>
<g transform="translate(910.5 132.8)"><use href="#logo"/><use href="#logoGlow" style="mix-blend-mode:screen"/><g transform="rotate(-31.5)" fill="#000" filter="url(#soft2)"><text x="19.2" y="1.9" font-size="13.2" letter-spacing="5.4" font-weight="700" fill-opacity="0.1" font-family="Liberation Sans, 'Noto Sans CJK SC', sans-serif">飞畅科技</text><text x="21.5" y="9.4" font-size="7.4" letter-spacing="0.8" fill-opacity="0.11" font-family="Liberation Sans, sans-serif">Fctel Technology</text></g></g>
<g transform="translate(1054.5 132.8)"><use href="#logo"/><use href="#logoGlow" style="mix-blend-mode:screen"/><g transform="rotate(-31.5)" fill="#000" filter="url(#soft2)"><text x="19.2" y="1.9" font-size="13.2" letter-spacing="5.4" font-weight="700" fill-opacity="0.1" font-family="Liberation Sans, 'Noto Sans CJK SC', sans-serif">飞畅科技</text><text x="21.5" y="9.4" font-size="7.4" letter-spacing="0.8" fill-opacity="0.11" font-family="Liberation Sans, sans-serif">Fctel Technology</text></g></g>
<g transform="translate(1198.5 132.8)"><use href="#logo"/><use href="#logoGlow" style="mix-blend-mode:screen"/><g transform="rotate(-31.5)" fill="#000" filter="url(#soft2)"><text x="19.2" y="1.9" font-size="13.2" letter-spacing="5.4" font-weight="700" fill-opacity="0.1" font-family="Liberation Sans, 'Noto Sans CJK SC', sans-serif">飞畅科技</text><text x="21.5" y="9.4" font-size="7.4" letter-spacing="0.8" fill-opacity="0.11" font-family="Liberation Sans, sans-serif">Fctel Technology</text></g></g>
<g transform="translate(873.0 211.1)"><use href="#logo"/><use href="#logoGlow" style="mix-blend-mode:screen"/><g transform="rotate(-31.5)" fill="#000" filter="url(#soft2)"><text x="19.2" y="1.9" font-size="13.2" letter-spacing="5.4" font-weight="700" fill-opacity="0.1" font-family="Liberation Sans, 'Noto Sans CJK SC', sans-serif">飞畅科技</text><text x="21.5" y="9.4" font-size="7.4" letter-spacing="0.8" fill-opacity="0.11" font-family="Liberation Sans, sans-serif">Fctel Technology</text></g></g>
<g transform="translate(1017.0 211.1)"><use href="#logo"/><use href="#logoGlow" style="mix-blend-mode:screen"/><g transform="rotate(-31.5)" fill="#000" filter="url(#soft2)"><text x="19.2" y="1.9" font-size="13.2" letter-spacing="5.4" font-weight="700" fill-opacity="0.1" font-family="Liberation Sans, 'Noto Sans CJK SC', sans-serif">飞畅科技</text><text x="21.5" y="9.4" font-size="7.4" letter-spacing="0.8" fill-opacity="0.11" font-family="Liberation Sans, sans-serif">Fctel Technology</text></g></g>
<g transform="translate(1161.0 211.1)"><use href="#logo"/><use href="#logoGlow" style="mix-blend-mode:screen"/><g transform="rotate(-31.5)" fill="#000" filter="url(#soft2)"><text x="19.2" y="1.9" font-size="13.2" letter-spacing="5.4" font-weight="700" fill-opacity="0.1" font-family="Liberation Sans, 'Noto Sans CJK SC', sans-serif">飞畅科技</text><text x="21.5" y="9.4" font-size="7.4" letter-spacing="0.8" fill-opacity="0.11" font-family="Liberation Sans, sans-serif">Fctel Technology</text></g></g>
<g transform="translate(899.0 290.3)"><use href="#logo"/><use href="#logoGlow" style="mix-blend-mode:screen"/><g transform="rotate(-31.5)" fill="#000" filter="url(#soft2)"><text x="19.2" y="1.9" font-size="13.2" letter-spacing="5.4" font-weight="700" fill-opacity="0.1" font-family="Liberation Sans, 'Noto Sans CJK SC', sans-serif">飞畅科技</text><text x="21.5" y="9.4" font-size="7.4" letter-spacing="0.8" fill-opacity="0.11" font-family="Liberation Sans, sans-serif">Fctel Technology</text></g></g>
<g transform="translate(1043.0 290.3)"><use href="#logo"/><use href="#logoGlow" style="mix-blend-mode:screen"/><g transform="rotate(-31.5)" fill="#000" filter="url(#soft2)"><text x="19.2" y="1.9" font-size="13.2" letter-spacing="5.4" font-weight="700" fill-opacity="0.1" font-family="Liberation Sans, 'Noto Sans CJK SC', sans-serif">飞畅科技</text><text x="21.5" y="9.4" font-size="7.4" letter-spacing="0.8" fill-opacity="0.11" font-family="Liberation Sans, sans-serif">Fctel Technology</text></g></g>
<g transform="translate(1187.0 290.3)"><use href="#logo"/><use href="#logoGlow" style="mix-blend-mode:screen"/><g transform="rotate(-31.5)" fill="#000" filter="url(#soft2)"><text x="19.2" y="1.9" font-size="13.2" letter-spacing="5.4" font-weight="700" fill-opacity="0.1" font-family="Liberation Sans, 'Noto Sans CJK SC', sans-serif">飞畅科技</text><text x="21.5" y="9.4" font-size="7.4" letter-spacing="0.8" fill-opacity="0.11" font-family="Liberation Sans, sans-serif">Fctel Technology</text></g></g>
<g transform="translate(888.8 367.5)"><use href="#logo"/><use href="#logoGlow" style="mix-blend-mode:screen"/><g transform="rotate(-31.5)" fill="#000" filter="url(#soft2)"><text x="19.2" y="1.9" font-size="13.2" letter-spacing="5.4" font-weight="700" fill-opacity="0.1" font-family="Liberation Sans, 'Noto Sans CJK SC', sans-serif">飞畅科技</text><text x="21.5" y="9.4" font-size="7.4" letter-spacing="0.8" fill-opacity="0.11" font-family="Liberation Sans, sans-serif">Fctel Technology</text></g></g>
<g transform="translate(1032.8 367.5)"><use href="#logo"/><use href="#logoGlow" style="mix-blend-mode:screen"/><g transform="rotate(-31.5)" fill="#000" filter="url(#soft2)"><text x="19.2" y="1.9" font-size="13.2" letter-spacing="5.4" font-weight="700" fill-opacity="0.1" font-family="Liberation Sans, 'Noto Sans CJK SC', sans-serif">飞畅科技</text><text x="21.5" y="9.4" font-size="7.4" letter-spacing="0.8" fill-opacity="0.11" font-family="Liberation Sans, sans-serif">Fctel Technology</text></g></g>
<g transform="translate(1176.8 367.5)"><use href="#logo"/><use href="#logoGlow" style="mix-blend-mode:screen"/><g transform="rotate(-31.5)" fill="#000" filter="url(#soft2)"><text x="19.2" y="1.9" font-size="13.2" letter-spacing="5.4" font-weight="700" fill-opacity="0.1" font-family="Liberation Sans, 'Noto Sans CJK SC', sans-serif">飞畅科技</text><text x="21.5" y="9.4" font-size="7.4" letter-spacing="0.8" fill-opacity="0.11" font-family="Liberation Sans, sans-serif">Fctel Technology</text></g></g>
<g transform="translate(914.0 446.2)"><use href="#logo"/><use href="#logoGlow" style="mix-blend-mode:screen"/><g transform="rotate(-31.5)" fill="#000" filter="url(#soft2)"><text x="19.2" y="1.9" font-size="13.2" letter-spacing="5.4" font-weight="700" fill-opacity="0.1" font-family="Liberation Sans, 'Noto Sans CJK SC', sans-serif">飞畅科技</text><text x="21.5" y="9.4" font-size="7.4" letter-spacing="0.8" fill-opacity="0.11" font-family="Liberation Sans, sans-serif">Fctel Technology</text></g></g>
<g transform="translate(1058.0 446.2)"><use href="#logo"/><use href="#logoGlow" style="mix-blend-mode:screen"/><g transform="rotate(-31.5)" fill="#000" filter="url(#soft2)"><text x="19.2" y="1.9" font-size="13.2" letter-spacing="5.4" font-weight="700" fill-opacity="0.1" font-family="Liberation Sans, 'Noto Sans CJK SC', sans-serif">飞畅科技</text><text x="21.5" y="9.4" font-size="7.4" letter-spacing="0.8" fill-opacity="0.11" font-family="Liberation Sans, sans-serif">Fctel Technology</text></g></g>
<g transform="translate(1202.0 446.2)"><use href="#logo"/><use href="#logoGlow" style="mix-blend-mode:screen"/><g transform="rotate(-31.5)" fill="#000" filter="url(#soft2)"><text x="19.2" y="1.9" font-size="13.2" letter-spacing="5.4" font-weight="700" fill-opacity="0.1" font-family="Liberation Sans, 'Noto Sans CJK SC', sans-serif">飞畅科技</text><text x="21.5" y="9.4" font-size="7.4" letter-spacing="0.8" fill-opacity="0.11" font-family="Liberation Sans, sans-serif">Fctel Technology</text></g></g>
<g transform="translate(-100.5 516.1)"><use href="#logo"/><use href="#logoGlow" style="mix-blend-mode:screen"/><g transform="rotate(-31.5)" fill="#000" filter="url(#soft2)"><text x="19.2" y="1.9" font-size="13.2" letter-spacing="5.4" font-weight="700" fill-opacity="0.1" font-family="Liberation Sans, 'Noto Sans CJK SC', sans-serif">飞畅科技</text><text x="21.5" y="9.4" font-size="7.4" letter-spacing="0.8" fill-opacity="0.11" font-family="Liberation Sans, sans-serif">Fctel Technology</text></g></g>
<g transform="translate(-75.5 594.8)"><use href="#logo"/><use href="#logoGlow" style="mix-blend-mode:screen"/><g transform="rotate(-31.5)" fill="#000" filter="url(#soft2)"><text x="19.2" y="1.9" font-size="13.2" letter-spacing="5.4" font-weight="700" fill-opacity="0.1" font-family="Liberation Sans, 'Noto Sans CJK SC', sans-serif">飞畅科技</text><text x="21.5" y="9.4" font-size="7.4" letter-spacing="0.8" fill-opacity="0.11" font-family="Liberation Sans, sans-serif">Fctel Technology</text></g></g>
<g transform="translate(-87.0 752.3)"><use href="#logo"/><use href="#logoGlow" style="mix-blend-mode:screen"/><g transform="rotate(-31.5)" fill="#000" filter="url(#soft2)"><text x="19.2" y="1.9" font-size="13.2" letter-spacing="5.4" font-weight="700" fill-opacity="0.1" font-family="Liberation Sans, 'Noto Sans CJK SC', sans-serif">飞畅科技</text><text x="21.5" y="9.4" font-size="7.4" letter-spacing="0.8" fill-opacity="0.11" font-family="Liberation Sans, sans-serif">Fctel Technology</text></g></g>
<g transform="translate(-97.2 829.5)"><use href="#logo"/><use href="#logoGlow" style="mix-blend-mode:screen"/><g transform="rotate(-31.5)" fill="#000" filter="url(#soft2)"><text x="19.2" y="1.9" font-size="13.2" letter-spacing="5.4" font-weight="700" fill-opacity="0.1" font-family="Liberation Sans, 'Noto Sans CJK SC', sans-serif">飞畅科技</text><text x="21.5" y="9.4" font-size="7.4" letter-spacing="0.8" fill-opacity="0.11" font-family="Liberation Sans, sans-serif">Fctel Technology</text></g></g>
<g transform="translate(36.5 516.1)"><use href="#logo"/><use href="#logoGlow" style="mix-blend-mode:screen"/><g transform="rotate(-31.5)" fill="#000" filter="url(#soft2)"><text x="19.2" y="1.9" font-size="13.2" letter-spacing="5.4" font-weight="700" fill-opacity="0.1" font-family="Liberation Sans, 'Noto Sans CJK SC', sans-serif">飞畅科技</text><text x="21.5" y="9.4" font-size="7.4" letter-spacing="0.8" fill-opacity="0.11" font-family="Liberation Sans, sans-serif">Fctel Technology</text></g></g>
<g transform="translate(180.5 516.1)"><use href="#logo"/><use href="#logoGlow" style="mix-blend-mode:screen"/><g transform="rotate(-31.5)" fill="#000" filter="url(#soft2)"><text x="19.2" y="1.9" font-size="13.2" letter-spacing="5.4" font-weight="700" fill-opacity="0.1" font-family="Liberation Sans, 'Noto Sans CJK SC', sans-serif">飞畅科技</text><text x="21.5" y="9.4" font-size="7.4" letter-spacing="0.8" fill-opacity="0.11" font-family="Liberation Sans, sans-serif">Fctel Technology</text></g></g>
<g transform="translate(324.5 516.1)"><use href="#logo"/><use href="#logoGlow" style="mix-blend-mode:screen"/><g transform="rotate(-31.5)" fill="#000" filter="url(#soft2)"><text x="19.2" y="1.9" font-size="13.2" letter-spacing="5.4" font-weight="700" fill-opacity="0.1" font-family="Liberation Sans, 'Noto Sans CJK SC', sans-serif">飞畅科技</text><text x="21.5" y="9.4" font-size="7.4" letter-spacing="0.8" fill-opacity="0.11" font-family="Liberation Sans, sans-serif">Fctel Technology</text></g></g>
<g transform="translate(468.5 516.1)"><use href="#logo"/><use href="#logoGlow" style="mix-blend-mode:screen"/><g transform="rotate(-31.5)" fill="#000" filter="url(#soft2)"><text x="19.2" y="1.9" font-size="13.2" letter-spacing="5.4" font-weight="700" fill-opacity="0.1" font-family="Liberation Sans, 'Noto Sans CJK SC', sans-serif">飞畅科技</text><text x="21.5" y="9.4" font-size="7.4" letter-spacing="0.8" fill-opacity="0.11" font-family="Liberation Sans, sans-serif">Fctel Technology</text></g></g>
<g transform="translate(612.5 516.1)"><use href="#logo"/><use href="#logoGlow" style="mix-blend-mode:screen"/><g transform="rotate(-31.5)" fill="#000" filter="url(#soft2)"><text x="19.2" y="1.9" font-size="13.2" letter-spacing="5.4" font-weight="700" fill-opacity="0.1" font-family="Liberation Sans, 'Noto Sans CJK SC', sans-serif">飞畅科技</text><text x="21.5" y="9.4" font-size="7.4" letter-spacing="0.8" fill-opacity="0.11" font-family="Liberation Sans, sans-serif">Fctel Technology</text></g></g>
<g transform="translate(756.5 516.1)"><use href="#logo"/><use href="#logoGlow" style="mix-blend-mode:screen"/><g transform="rotate(-31.5)" fill="#000" filter="url(#soft2)"><text x="19.2" y="1.9" font-size="13.2" letter-spacing="5.4" font-weight="700" fill-opacity="0.1" font-family="Liberation Sans, 'Noto Sans CJK SC', sans-serif">飞畅科技</text><text x="21.5" y="9.4" font-size="7.4" letter-spacing="0.8" fill-opacity="0.11" font-family="Liberation Sans, sans-serif">Fctel Technology</text></g></g>
<g transform="translate(61.5 594.8)"><use href="#logo"/><use href="#logoGlow" style="mix-blend-mode:screen"/><g transform="rotate(-31.5)" fill="#000" filter="url(#soft2)"><text x="19.2" y="1.9" font-size="13.2" letter-spacing="5.4" font-weight="700" fill-opacity="0.1" font-family="Liberation Sans, 'Noto Sans CJK SC', sans-serif">飞畅科技</text><text x="21.5" y="9.4" font-size="7.4" letter-spacing="0.8" fill-opacity="0.11" font-family="Liberation Sans, sans-serif">Fctel Technology</text></g></g>
<g transform="translate(205.5 594.8)"><use href="#logo"/><use href="#logoGlow" style="mix-blend-mode:screen"/><g transform="rotate(-31.5)" fill="#000" filter="url(#soft2)"><text x="19.2" y="1.9" font-size="13.2" letter-spacing="5.4" font-weight="700" fill-opacity="0.1" font-family="Liberation Sans, 'Noto Sans CJK SC', sans-serif">飞畅科技</text><text x="21.5" y="9.4" font-size="7.4" letter-spacing="0.8" fill-opacity="0.11" font-family="Liberation Sans, sans-serif">Fctel Technology</text></g></g>
<g transform="translate(349.5 594.8)"><use href="#logo"/><use href="#logoGlow" style="mix-blend-mode:screen"/><g transform="rotate(-31.5)" fill="#000" filter="url(#soft2)"><text x="19.2" y="1.9" font-size="13.2" letter-spacing="5.4" font-weight="700" fill-opacity="0.1" font-family="Liberation Sans, 'Noto Sans CJK SC', sans-serif">飞畅科技</text><text x="21.5" y="9.4" font-size="7.4" letter-spacing="0.8" fill-opacity="0.11" font-family="Liberation Sans, sans-serif">Fctel Technology</text></g></g>
<g transform="translate(493.5 594.8)"><use href="#logo"/><use href="#logoGlow" style="mix-blend-mode:screen"/><g transform="rotate(-31.5)" fill="#000" filter="url(#soft2)"><text x="19.2" y="1.9" font-size="13.2" letter-spacing="5.4" font-weight="700" fill-opacity="0.1" font-family="Liberation Sans, 'Noto Sans CJK SC', sans-serif">飞畅科技</text><text x="21.5" y="9.4" font-size="7.4" letter-spacing="0.8" fill-opacity="0.11" font-family="Liberation Sans, sans-serif">Fctel Technology</text></g></g>
<g transform="translate(637.5 594.8)"><use href="#logo"/><use href="#logoGlow" style="mix-blend-mode:screen"/><g transform="rotate(-31.5)" fill="#000" filter="url(#soft2)"><text x="19.2" y="1.9" font-size="13.2" letter-spacing="5.4" font-weight="700" fill-opacity="0.1" font-family="Liberation Sans, 'Noto Sans CJK SC', sans-serif">飞畅科技</text><text x="21.5" y="9.4" font-size="7.4" letter-spacing="0.8" fill-opacity="0.11" font-family="Liberation Sans, sans-serif">Fctel Technology</text></g></g>
<g transform="translate(781.5 594.8)"><use href="#logo"/><use href="#logoGlow" style="mix-blend-mode:screen"/><g transform="rotate(-31.5)" fill="#000" filter="url(#soft2)"><text x="19.2" y="1.9" font-size="13.2" letter-spacing="5.4" font-weight="700" fill-opacity="0.1" font-family="Liberation Sans, 'Noto Sans CJK SC', sans-serif">飞畅科技</text><text x="21.5" y="9.4" font-size="7.4" letter-spacing="0.8" fill-opacity="0.11" font-family="Liberation Sans, sans-serif">Fctel Technology</text></g></g>
<g transform="translate(24.0 673.1)"><use href="#logo"/><use href="#logoGlow" style="mix-blend-mode:screen"/><g transform="rotate(-31.5)" fill="#000" filter="url(#soft2)"><text x="19.2" y="1.9" font-size="13.2" letter-spacing="5.4" font-weight="700" fill-opacity="0.1" font-family="Liberation Sans, 'Noto Sans CJK SC', sans-serif">飞畅科技</text><text x="21.5" y="9.4" font-size="7.4" letter-spacing="0.8" fill-opacity="0.11" font-family="Liberation Sans, sans-serif">Fctel Technology</text></g></g>
<g transform="translate(168.0 673.1)"><use href="#logo"/><use href="#logoGlow" style="mix-blend-mode:screen"/><g transform="rotate(-31.5)" fill="#000" filter="url(#soft2)"><text x="19.2" y="1.9" font-size="13.2" letter-spacing="5.4" font-weight="700" fill-opacity="0.1" font-family="Liberation Sans, 'Noto Sans CJK SC', sans-serif">飞畅科技</text><text x="21.5" y="9.4" font-size="7.4" letter-spacing="0.8" fill-opacity="0.11" font-family="Liberation Sans, sans-serif">Fctel Technology</text></g></g>
<g transform="translate(312.0 673.1)"><use href="#logo"/><use href="#logoGlow" style="mix-blend-mode:screen"/><g transform="rotate(-31.5)" fill="#000" filter="url(#soft2)"><text x="19.2" y="1.9" font-size="13.2" letter-spacing="5.4" font-weight="700" fill-opacity="0.1" font-family="Liberation Sans, 'Noto Sans CJK SC', sans-serif">飞畅科技</text><text x="21.5" y="9.4" font-size="7.4" letter-spacing="0.8" fill-opacity="0.11" font-family="Liberation Sans, sans-serif">Fctel Technology</text></g></g>
<g transform="translate(456.0 673.1)"><use href="#logo"/><use href="#logoGlow" style="mix-blend-mode:screen"/><g transform="rotate(-31.5)" fill="#000" filter="url(#soft2)"><text x="19.2" y="1.9" font-size="13.2" letter-spacing="5.4" font-weight="700" fill-opacity="0.1" font-family="Liberation Sans, 'Noto Sans CJK SC', sans-serif">飞畅科技</text><text x="21.5" y="9.4" font-size="7.4" letter-spacing="0.8" fill-opacity="0.11" font-family="Liberation Sans, sans-serif">Fctel Technology</text></g></g>
<g transform="translate(600.0 673.1)"><use href="#logo"/><use href="#logoGlow" style="mix-blend-mode:screen"/><g transform="rotate(-31.5)" fill="#000" filter="url(#soft2)"><text x="19.2" y="1.9" font-size="13.2" letter-spacing="5.4" font-weight="700" fill-opacity="0.1" font-family="Liberation Sans, 'Noto Sans CJK SC', sans-serif">飞畅科技</text><text x="21.5" y="9.4" font-size="7.4" letter-spacing="0.8" fill-opacity="0.11" font-family="Liberation Sans, sans-serif">Fctel Technology</text></g></g>
<g transform="translate(744.0 673.1)"><use href="#logo"/><use href="#logoGlow" style="mix-blend-mode:screen"/><g transform="rotate(-31.5)" fill="#000" filter="url(#soft2)"><text x="19.2" y="1.9" font-size="13.2" letter-spacing="5.4" font-weight="700" fill-opacity="0.1" font-family="Liberation Sans, 'Noto Sans CJK SC', sans-serif">飞畅科技</text><text x="21.5" y="9.4" font-size="7.4" letter-spacing="0.8" fill-opacity="0.11" font-family="Liberation Sans, sans-serif">Fctel Technology</text></g></g>
<g transform="translate(50.0 752.3)"><use href="#logo"/><use href="#logoGlow" style="mix-blend-mode:screen"/><g transform="rotate(-31.5)" fill="#000" filter="url(#soft2)"><text x="19.2" y="1.9" font-size="13.2" letter-spacing="5.4" font-weight="700" fill-opacity="0.1" font-family="Liberation Sans, 'Noto Sans CJK SC', sans-serif">飞畅科技</text><text x="21.5" y="9.4" font-size="7.4" letter-spacing="0.8" fill-opacity="0.11" font-family="Liberation Sans, sans-serif">Fctel Technology</text></g></g>
<g transform="translate(194.0 752.3)"><use href="#logo"/><use href="#logoGlow" style="mix-blend-mode:screen"/><g transform="rotate(-31.5)" fill="#000" filter="url(#soft2)"><text x="19.2" y="1.9" font-size="13.2" letter-spacing="5.4" font-weight="700" fill-opacity="0.1" font-family="Liberation Sans, 'Noto Sans CJK SC', sans-serif">飞畅科技</text><text x="21.5" y="9.4" font-size="7.4" letter-spacing="0.8" fill-opacity="0.11" font-family="Liberation Sans, sans-serif">Fctel Technology</text></g></g>
<g transform="translate(338.0 752.3)"><use href="#logo"/><use href="#logoGlow" style="mix-blend-mode:screen"/><g transform="rotate(-31.5)" fill="#000" filter="url(#soft2)"><text x="19.2" y="1.9" font-size="13.2" letter-spacing="5.4" font-weight="700" fill-opacity="0.1" font-family="Liberation Sans, 'Noto Sans CJK SC', sans-serif">飞畅科技</text><text x="21.5" y="9.4" font-size="7.4" letter-spacing="0.8" fill-opacity="0.11" font-family="Liberation Sans, sans-serif">Fctel Technology</text></g></g>
<g transform="translate(482.0 752.3)"><use href="#logo"/><use href="#logoGlow" style="mix-blend-mode:screen"/><g transform="rotate(-31.5)" fill="#000" filter="url(#soft2)"><text x="19.2" y="1.9" font-size="13.2" letter-spacing="5.4" font-weight="700" fill-opacity="0.1" font-family="Liberation Sans, 'Noto Sans CJK SC', sans-serif">飞畅科技</text><text x="21.5" y="9.4" font-size="7.4" letter-spacing="0.8" fill-opacity="0.11" font-family="Liberation Sans, sans-serif">Fctel Technology</text></g></g>
<g transform="translate(626.0 752.3)"><use href="#logo"/><use href="#logoGlow" style="mix-blend-mode:screen"/><g transform="rotate(-31.5)" fill="#000" filter="url(#soft2)"><text x="19.2" y="1.9" font-size="13.2" letter-spacing="5.4" font-weight="700" fill-opacity="0.1" font-family="Liberation Sans, 'Noto Sans CJK SC', sans-serif">飞畅科技</text><text x="21.5" y="9.4" font-size="7.4" letter-spacing="0.8" fill-opacity="0.11" font-family="Liberation Sans, sans-serif">Fctel Technology</text></g></g>
<g transform="translate(770.0 752.3)"><use href="#logo"/><use href="#logoGlow" style="mix-blend-mode:screen"/><g transform="rotate(-31.5)" fill="#000" filter="url(#soft2)"><text x="19.2" y="1.9" font-size="13.2" letter-spacing="5.4" font-weight="700" fill-opacity="0.1" font-family="Liberation Sans, 'Noto Sans CJK SC', sans-serif">飞畅科技</text><text x="21.5" y="9.4" font-size="7.4" letter-spacing="0.8" fill-opacity="0.11" font-family="Liberation Sans, sans-serif">Fctel Technology</text></g></g>
<g transform="translate(39.8 829.5)"><use href="#logo"/><use href="#logoGlow" style="mix-blend-mode:screen"/><g transform="rotate(-31.5)" fill="#000" filter="url(#soft2)"><text x="19.2" y="1.9" font-size="13.2" letter-spacing="5.4" font-weight="700" fill-opacity="0.1" font-family="Liberation Sans, 'Noto Sans CJK SC', sans-serif">飞畅科技</text><text x="21.5" y="9.4" font-size="7.4" letter-spacing="0.8" fill-opacity="0.11" font-family="Liberation Sans, sans-serif">Fctel Technology</text></g></g>
<g transform="translate(183.8 829.5)"><use href="#logo"/><use href="#logoGlow" style="mix-blend-mode:screen"/><g transform="rotate(-31.5)" fill="#000" filter="url(#soft2)"><text x="19.2" y="1.9" font-size="13.2" letter-spacing="5.4" font-weight="700" fill-opacity="0.1" font-family="Liberation Sans, 'Noto Sans CJK SC', sans-serif">飞畅科技</text><text x="21.5" y="9.4" font-size="7.4" letter-spacing="0.8" fill-opacity="0.11" font-family="Liberation Sans, sans-serif">Fctel Technology</text></g></g>
<g transform="translate(327.8 829.5)"><use href="#logo"/><use href="#logoGlow" style="mix-blend-mode:screen"/><g transform="rotate(-31.5)" fill="#000" filter="url(#soft2)"><text x="19.2" y="1.9" font-size="13.2" letter-spacing="5.4" font-weight="700" fill-opacity="0.1" font-family="Liberation Sans, 'Noto Sans CJK SC', sans-serif">飞畅科技</text><text x="21.5" y="9.4" font-size="7.4" letter-spacing="0.8" fill-opacity="0.11" font-family="Liberation Sans, sans-serif">Fctel Technology</text></g></g>
<g transform="translate(471.8 829.5)"><use href="#logo"/><use href="#logoGlow" style="mix-blend-mode:screen"/><g transform="rotate(-31.5)" fill="#000" filter="url(#soft2)"><text x="19.2" y="1.9" font-size="13.2" letter-spacing="5.4" font-weight="700" fill-opacity="0.1" font-family="Liberation Sans, 'Noto Sans CJK SC', sans-serif">飞畅科技</text><text x="21.5" y="9.4" font-size="7.4" letter-spacing="0.8" fill-opacity="0.11" font-family="Liberation Sans, sans-serif">Fctel Technology</text></g></g>
<g transform="translate(615.8 829.5)"><use href="#logo"/><use href="#logoGlow" style="mix-blend-mode:screen"/><g transform="rotate(-31.5)" fill="#000" filter="url(#soft2)"><text x="19.2" y="1.9" font-size="13.2" letter-spacing="5.4" font-weight="700" fill-opacity="0.1" font-family="Liberation Sans, 'Noto Sans CJK SC', sans-serif">飞畅科技</text><text x="21.5" y="9.4" font-size="7.4" letter-spacing="0.8" fill-opacity="0.11" font-family="Liberation Sans, sans-serif">Fctel Technology</text></g></g>
<g transform="translate(759.8 829.5)"><use href="#logo"/><use href="#logoGlow" style="mix-blend-mode:screen"/><g transform="rotate(-31.5)" fill="#000" filter="url(#soft2)"><text x="19.2" y="1.9" font-size="13.2" letter-spacing="5.4" font-weight="700" fill-opacity="0.1" font-family="Liberation Sans, 'Noto Sans CJK SC', sans-serif">飞畅科技</text><text x="21.5" y="9.4" font-size="7.4" letter-spacing="0.8" fill-opacity="0.11" font-family="Liberation Sans, sans-serif">Fctel Technology</text></g></g>
<g transform="translate(893.5 516.1)"><use href="#logo"/><use href="#logoGlow" style="mix-blend-mode:screen"/><g transform="rotate(-31.5)" fill="#000" filter="url(#soft2)"><text x="19.2" y="1.9" font-size="13.2" letter-spacing="5.4" font-weight="700" fill-opacity="0.1" font-family="Liberation Sans, 'Noto Sans CJK SC', sans-serif">飞畅科技</text><text x="21.5" y="9.4" font-size="7.4" letter-spacing="0.8" fill-opacity="0.11" font-family="Liberation Sans, sans-serif">Fctel Technology</text></g></g>
<g transform="translate(1037.5 516.1)"><use href="#logo"/><use href="#logoGlow" style="mix-blend-mode:screen"/><g transform="rotate(-31.5)" fill="#000" filter="url(#soft2)"><text x="19.2" y="1.9" font-size="13.2" letter-spacing="5.4" font-weight="700" fill-opacity="0.1" font-family="Liberation Sans, 'Noto Sans CJK SC', sans-serif">飞畅科技</text><text x="21.5" y="9.4" font-size="7.4" letter-spacing="0.8" fill-opacity="0.11" font-family="Liberation Sans, sans-serif">Fctel Technology</text></g></g>
<g transform="translate(1181.5 516.1)"><use href="#logo"/><use href="#logoGlow" style="mix-blend-mode:screen"/><g transform="rotate(-31.5)" fill="#000" filter="url(#soft2)"><text x="19.2" y="1.9" font-size="13.2" letter-spacing="5.4" font-weight="700" fill-opacity="0.1" font-family="Liberation Sans, 'Noto Sans CJK SC', sans-serif">飞畅科技</text><text x="21.5" y="9.4" font-size="7.4" letter-spacing="0.8" fill-opacity="0.11" font-family="Liberation Sans, sans-serif">Fctel Technology</text></g></g>
<g transform="translate(918.5 594.8)"><use href="#logo"/><use href="#logoGlow" style="mix-blend-mode:screen"/><g transform="rotate(-31.5)" fill="#000" filter="url(#soft2)"><text x="19.2" y="1.9" font-size="13.2" letter-spacing="5.4" font-weight="700" fill-opacity="0.1" font-family="Liberation Sans, 'Noto Sans CJK SC', sans-serif">飞畅科技</text><text x="21.5" y="9.4" font-size="7.4" letter-spacing="0.8" fill-opacity="0.11" font-family="Liberation Sans, sans-serif">Fctel Technology</text></g></g>
<g transform="translate(1062.5 594.8)"><use href="#logo"/><use href="#logoGlow" style="mix-blend-mode:screen"/><g transform="rotate(-31.5)" fill="#000" filter="url(#soft2)"><text x="19.2" y="1.9" font-size="13.2" letter-spacing="5.4" font-weight="700" fill-opacity="0.1" font-family="Liberation Sans, 'Noto Sans CJK SC', sans-serif">飞畅科技</text><text x="21.5" y="9.4" font-size="7.4" letter-spacing="0.8" fill-opacity="0.11" font-family="Liberation Sans, sans-serif">Fctel Technology</text></g></g>
<g transform="translate(1206.5 594.8)"><use href="#logo"/><use href="#logoGlow" style="mix-blend-mode:screen"/><g transform="rotate(-31.5)" fill="#000" filter="url(#soft2)"><text x="19.2" y="1.9" font-size="13.2" letter-spacing="5.4" font-weight="700" fill-opacity="0.1" font-family="Liberation Sans, 'Noto Sans CJK SC', sans-serif">飞畅科技</text><text x="21.5" y="9.4" font-size="7.4" letter-spacing="0.8" fill-opacity="0.11" font-family="Liberation Sans, sans-serif">Fctel Technology</text></g></g>
<g transform="translate(881.0 673.1)"><use href="#logo"/><use href="#logoGlow" style="mix-blend-mode:screen"/><g transform="rotate(-31.5)" fill="#000" filter="url(#soft2)"><text x="19.2" y="1.9" font-size="13.2" letter-spacing="5.4" font-weight="700" fill-opacity="0.1" font-family="Liberation Sans, 'Noto Sans CJK SC', sans-serif">飞畅科技</text><text x="21.5" y="9.4" font-size="7.4" letter-spacing="0.8" fill-opacity="0.11" font-family="Liberation Sans, sans-serif">Fctel Technology</text></g></g>
<g transform="translate(1025.0 673.1)"><use href="#logo"/><use href="#logoGlow" style="mix-blend-mode:screen"/><g transform="rotate(-31.5)" fill="#000" filter="url(#soft2)"><text x="19.2" y="1.9" font-size="13.2" letter-spacing="5.4" font-weight="700" fill-opacity="0.1" font-family="Liberation Sans, 'Noto Sans CJK SC', sans-serif">飞畅科技</text><text x="21.5" y="9.4" font-size="7.4" letter-spacing="0.8" fill-opacity="0.11" font-family="Liberation Sans, sans-serif">Fctel Technology</text></g></g>
<g transform="translate(1169.0 673.1)"><use href="#logo"/><use href="#logoGlow" style="mix-blend-mode:screen"/><g transform="rotate(-31.5)" fill="#000" filter="url(#soft2)"><text x="19.2" y="1.9" font-size="13.2" letter-spacing="5.4" font-weight="700" fill-opacity="0.1" font-family="Liberation Sans, 'Noto Sans CJK SC', sans-serif">飞畅科技</text><text x="21.5" y="9.4" font-size="7.4" letter-spacing="0.8" fill-opacity="0.11" font-family="Liberation Sans, sans-serif">Fctel Technology</text></g></g>
<g transform="translate(907.0 752.3)"><use href="#logo"/><use href="#logoGlow" style="mix-blend-mode:screen"/><g transform="rotate(-31.5)" fill="#000" filter="url(#soft2)"><text x="19.2" y="1.9" font-size="13.2" letter-spacing="5.4" font-weight="700" fill-opacity="0.1" font-family="Liberation Sans, 'Noto Sans CJK SC', sans-serif">飞畅科技</text><text x="21.5" y="9.4" font-size="7.4" letter-spacing="0.8" fill-opacity="0.11" font-family="Liberation Sans, sans-serif">Fctel Technology</text></g></g>
<g transform="translate(1051.0 752.3)"><use href="#logo"/><use href="#logoGlow" style="mix-blend-mode:screen"/><g transform="rotate(-31.5)" fill="#000" filter="url(#soft2)"><text x="19.2" y="1.9" font-size="13.2" letter-spacing="5.4" font-weight="700" fill-opacity="0.1" font-family="Liberation Sans, 'Noto Sans CJK SC', sans-serif">飞畅科技</text><text x="21.5" y="9.4" font-size="7.4" letter-spacing="0.8" fill-opacity="0.11" font-family="Liberation Sans, sans-serif">Fctel Technology</text></g></g>
<g transform="translate(1195.0 752.3)"><use href="#logo"/><use href="#logoGlow" style="mix-blend-mode:screen"/><g transform="rotate(-31.5)" fill="#000" filter="url(#soft2)"><text x="19.2" y="1.9" font-size="13.2" letter-spacing="5.4" font-weight="700" fill-opacity="0.1" font-family="Liberation Sans, 'Noto Sans CJK SC', sans-serif">飞畅科技</text><text x="21.5" y="9.4" font-size="7.4" letter-spacing="0.8" fill-opacity="0.11" font-family="Liberation Sans, sans-serif">Fctel Technology</text></g></g>
<g transform="translate(896.8 829.5)"><use href="#logo"/><use href="#logoGlow" style="mix-blend-mode:screen"/><g transform="rotate(-31.5)" fill="#000" filter="url(#soft2)"><text x="19.2" y="1.9" font-size="13.2" letter-spacing="5.4" font-weight="700" fill-opacity="0.1" font-family="Liberation Sans, 'Noto Sans CJK SC', sans-serif">飞畅科技</text><text x="21.5" y="9.4" font-size="7.4" letter-spacing="0.8" fill-opacity="0.11" font-family="Liberation Sans, sans-serif">Fctel Technology</text></g></g>
<g transform="translate(1040.8 829.5)"><use href="#logo"/><use href="#logoGlow" style="mix-blend-mode:screen"/><g transform="rotate(-31.5)" fill="#000" filter="url(#soft2)"><text x="19.2" y="1.9" font-size="13.2" letter-spacing="5.4" font-weight="700" fill-opacity="0.1" font-family="Liberation Sans, 'Noto Sans CJK SC', sans-serif">飞畅科技</text><text x="21.5" y="9.4" font-size="7.4" letter-spacing="0.8" fill-opacity="0.11" font-family="Liberation Sans, sans-serif">Fctel Technology</text></g></g>
<g transform="translate(1184.8 829.5)"><use href="#logo"/><use href="#logoGlow" style="mix-blend-mode:screen"/><g transform="rotate(-31.5)" fill="#000" filter="url(#soft2)"><text x="19.2" y="1.9" font-size="13.2" letter-spacing="5.4" font-weight="700" fill-opacity="0.1" font-family="Liberation Sans, 'Noto Sans CJK SC', sans-serif">飞畅科技</text><text x="21.5" y="9.4" font-size="7.4" letter-spacing="0.8" fill-opacity="0.11" font-family="Liberation Sans, sans-serif">Fctel Technology</text></g></g>
</g>
</svg>
</body>
</html>
